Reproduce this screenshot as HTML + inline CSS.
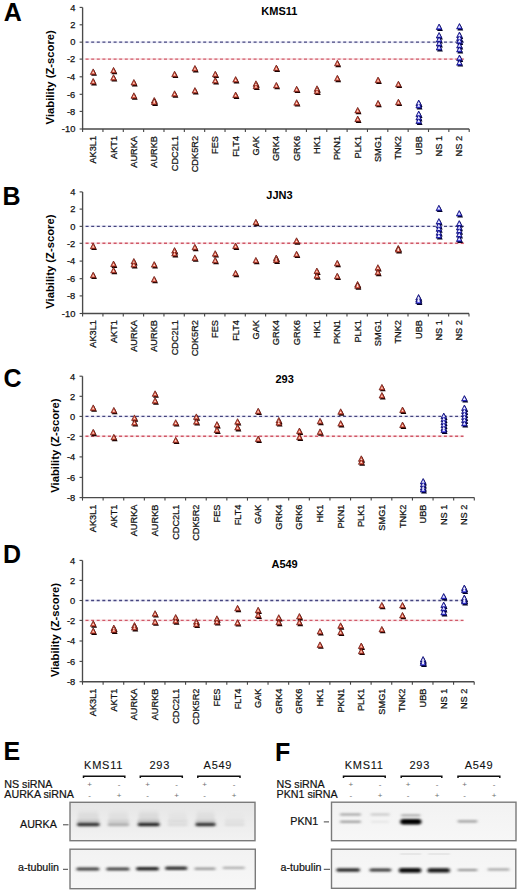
<!DOCTYPE html>
<html><head><meta charset="utf-8"><title>Figure</title>
<style>
html,body{margin:0;padding:0;background:#fff;}
body{width:520px;height:892px;position:relative;overflow:hidden;font-family:"Liberation Sans", sans-serif;}
svg text{font-family:"Liberation Sans", sans-serif;}
</style></head><body>
<svg width="520" height="892" viewBox="0 0 520 892" style="position:absolute;left:0;top:0"><text x="3.8" y="20.9" font-size="25" font-weight="bold" fill="#000">A</text><text x="279.4" y="14.9" font-size="11" font-weight="bold" text-anchor="middle" fill="#000">KMS11</text><text transform="translate(54.4,77.3) rotate(-90)" font-size="11.25" font-weight="bold" text-anchor="middle" fill="#000">Viability (Z-score)</text><line x1="84.6" y1="42.15" x2="464.2" y2="42.15" stroke="#ececf8" stroke-width="2"/><line x1="84.6" y1="59.10" x2="464.2" y2="59.10" stroke="#fae4e6" stroke-width="2"/><line x1="85.6" y1="42.15" x2="464.2" y2="42.15" stroke="#44447e" stroke-width="1.4" stroke-dasharray="3,2.6"/><line x1="85.6" y1="59.10" x2="464.2" y2="59.10" stroke="#d05868" stroke-width="1.4" stroke-dasharray="3,2.6"/><path d="M82.60,7.40V129.00H469.20" fill="none" stroke="#4a4a4a" stroke-width="1.35"/><line x1="79.60" y1="7.40" x2="82.60" y2="7.40" stroke="#444" stroke-width="1.1"/><text x="75.30" y="10.70" font-size="9.3" text-anchor="end" fill="#111" stroke="#111" stroke-width="0.25">4</text><line x1="79.60" y1="24.80" x2="82.60" y2="24.80" stroke="#444" stroke-width="1.1"/><text x="75.30" y="28.10" font-size="9.3" text-anchor="end" fill="#111" stroke="#111" stroke-width="0.25">2</text><line x1="79.60" y1="42.15" x2="82.60" y2="42.15" stroke="#444" stroke-width="1.1"/><text x="75.30" y="45.45" font-size="9.3" text-anchor="end" fill="#111" stroke="#111" stroke-width="0.25">0</text><line x1="79.60" y1="59.10" x2="82.60" y2="59.10" stroke="#444" stroke-width="1.1"/><text x="75.30" y="62.40" font-size="9.3" text-anchor="end" fill="#111" stroke="#111" stroke-width="0.25">-2</text><line x1="79.60" y1="76.80" x2="82.60" y2="76.80" stroke="#444" stroke-width="1.1"/><text x="75.30" y="80.10" font-size="9.3" text-anchor="end" fill="#111" stroke="#111" stroke-width="0.25">-4</text><line x1="79.60" y1="94.30" x2="82.60" y2="94.30" stroke="#444" stroke-width="1.1"/><text x="75.30" y="97.60" font-size="9.3" text-anchor="end" fill="#111" stroke="#111" stroke-width="0.25">-6</text><line x1="79.60" y1="111.40" x2="82.60" y2="111.40" stroke="#444" stroke-width="1.1"/><text x="75.30" y="114.70" font-size="9.3" text-anchor="end" fill="#111" stroke="#111" stroke-width="0.25">-8</text><line x1="79.60" y1="129.00" x2="82.60" y2="129.00" stroke="#444" stroke-width="1.1"/><text x="75.30" y="132.30" font-size="9.3" text-anchor="end" fill="#111" stroke="#111" stroke-width="0.25">-10</text><line x1="82.60" y1="129.00" x2="82.60" y2="132.00" stroke="#444" stroke-width="1.1"/><line x1="102.95" y1="129.00" x2="102.95" y2="132.00" stroke="#444" stroke-width="1.1"/><line x1="123.29" y1="129.00" x2="123.29" y2="132.00" stroke="#444" stroke-width="1.1"/><line x1="143.64" y1="129.00" x2="143.64" y2="132.00" stroke="#444" stroke-width="1.1"/><line x1="163.99" y1="129.00" x2="163.99" y2="132.00" stroke="#444" stroke-width="1.1"/><line x1="184.34" y1="129.00" x2="184.34" y2="132.00" stroke="#444" stroke-width="1.1"/><line x1="204.68" y1="129.00" x2="204.68" y2="132.00" stroke="#444" stroke-width="1.1"/><line x1="225.03" y1="129.00" x2="225.03" y2="132.00" stroke="#444" stroke-width="1.1"/><line x1="245.38" y1="129.00" x2="245.38" y2="132.00" stroke="#444" stroke-width="1.1"/><line x1="265.73" y1="129.00" x2="265.73" y2="132.00" stroke="#444" stroke-width="1.1"/><line x1="286.07" y1="129.00" x2="286.07" y2="132.00" stroke="#444" stroke-width="1.1"/><line x1="306.42" y1="129.00" x2="306.42" y2="132.00" stroke="#444" stroke-width="1.1"/><line x1="326.77" y1="129.00" x2="326.77" y2="132.00" stroke="#444" stroke-width="1.1"/><line x1="347.12" y1="129.00" x2="347.12" y2="132.00" stroke="#444" stroke-width="1.1"/><line x1="367.46" y1="129.00" x2="367.46" y2="132.00" stroke="#444" stroke-width="1.1"/><line x1="387.81" y1="129.00" x2="387.81" y2="132.00" stroke="#444" stroke-width="1.1"/><line x1="408.16" y1="129.00" x2="408.16" y2="132.00" stroke="#444" stroke-width="1.1"/><line x1="428.51" y1="129.00" x2="428.51" y2="132.00" stroke="#444" stroke-width="1.1"/><line x1="448.85" y1="129.00" x2="448.85" y2="132.00" stroke="#444" stroke-width="1.1"/><line x1="469.20" y1="129.00" x2="469.20" y2="132.00" stroke="#444" stroke-width="1.1"/><text transform="translate(96.17,136.00) rotate(-90)" font-size="9.2" text-anchor="end" fill="#111" stroke="#111" stroke-width="0.25">AK3L1</text><text transform="translate(116.52,136.00) rotate(-90)" font-size="9.2" text-anchor="end" fill="#111" stroke="#111" stroke-width="0.25">AKT1</text><text transform="translate(136.87,136.00) rotate(-90)" font-size="9.2" text-anchor="end" fill="#111" stroke="#111" stroke-width="0.25">AURKA</text><text transform="translate(157.22,136.00) rotate(-90)" font-size="9.2" text-anchor="end" fill="#111" stroke="#111" stroke-width="0.25">AURKB</text><text transform="translate(177.56,136.00) rotate(-90)" font-size="9.2" text-anchor="end" fill="#111" stroke="#111" stroke-width="0.25">CDC2L1</text><text transform="translate(197.91,136.00) rotate(-90)" font-size="9.2" text-anchor="end" fill="#111" stroke="#111" stroke-width="0.25">CDK5R2</text><text transform="translate(218.26,136.00) rotate(-90)" font-size="9.2" text-anchor="end" fill="#111" stroke="#111" stroke-width="0.25">FES</text><text transform="translate(238.61,136.00) rotate(-90)" font-size="9.2" text-anchor="end" fill="#111" stroke="#111" stroke-width="0.25">FLT4</text><text transform="translate(258.95,136.00) rotate(-90)" font-size="9.2" text-anchor="end" fill="#111" stroke="#111" stroke-width="0.25">GAK</text><text transform="translate(279.30,136.00) rotate(-90)" font-size="9.2" text-anchor="end" fill="#111" stroke="#111" stroke-width="0.25">GRK4</text><text transform="translate(299.65,136.00) rotate(-90)" font-size="9.2" text-anchor="end" fill="#111" stroke="#111" stroke-width="0.25">GRK6</text><text transform="translate(319.99,136.00) rotate(-90)" font-size="9.2" text-anchor="end" fill="#111" stroke="#111" stroke-width="0.25">HK1</text><text transform="translate(340.34,136.00) rotate(-90)" font-size="9.2" text-anchor="end" fill="#111" stroke="#111" stroke-width="0.25">PKN1</text><text transform="translate(360.69,136.00) rotate(-90)" font-size="9.2" text-anchor="end" fill="#111" stroke="#111" stroke-width="0.25">PLK1</text><text transform="translate(381.04,136.00) rotate(-90)" font-size="9.2" text-anchor="end" fill="#111" stroke="#111" stroke-width="0.25">SMG1</text><text transform="translate(401.38,136.00) rotate(-90)" font-size="9.2" text-anchor="end" fill="#111" stroke="#111" stroke-width="0.25">TNK2</text><text transform="translate(421.73,136.00) rotate(-90)" font-size="9.2" text-anchor="end" fill="#111" stroke="#111" stroke-width="0.25">UBB</text><text transform="translate(442.08,136.00) rotate(-90)" font-size="9.2" text-anchor="end" fill="#111" stroke="#111" stroke-width="0.25">NS 1</text><text transform="translate(462.43,136.00) rotate(-90)" font-size="9.2" text-anchor="end" fill="#111" stroke="#111" stroke-width="0.25">NS 2</text><path d="M91.17,75.80L94.07,69.90L96.97,75.80Z" fill="#140000"/><path d="M91.17,85.40L94.07,79.50L96.97,85.40Z" fill="#140000"/><path d="M90.37,74.40L93.17,68.90L95.97,74.40Z" fill="#e4604c" stroke="#6a1810" stroke-width="0.8" stroke-linejoin="round"/><path d="M90.37,84.00L93.17,78.50L95.97,84.00Z" fill="#e4604c" stroke="#6a1810" stroke-width="0.8" stroke-linejoin="round"/><path d="M92.17,73.20L93.17,71.30L94.17,73.20Z" fill="#ffece0"/><path d="M92.17,82.80L93.17,80.90L94.17,82.80Z" fill="#ffece0"/><path d="M111.52,74.30L114.42,68.40L117.32,74.30Z" fill="#140000"/><path d="M111.52,81.60L114.42,75.70L117.32,81.60Z" fill="#140000"/><path d="M110.72,72.90L113.52,67.40L116.32,72.90Z" fill="#e4604c" stroke="#6a1810" stroke-width="0.8" stroke-linejoin="round"/><path d="M110.72,80.20L113.52,74.70L116.32,80.20Z" fill="#e4604c" stroke="#6a1810" stroke-width="0.8" stroke-linejoin="round"/><path d="M112.52,71.70L113.52,69.80L114.52,71.70Z" fill="#ffece0"/><path d="M112.52,79.00L113.52,77.10L114.52,79.00Z" fill="#ffece0"/><path d="M131.87,86.40L134.77,80.50L137.67,86.40Z" fill="#140000"/><path d="M131.87,99.70L134.77,93.80L137.67,99.70Z" fill="#140000"/><path d="M131.07,85.00L133.87,79.50L136.67,85.00Z" fill="#e4604c" stroke="#6a1810" stroke-width="0.8" stroke-linejoin="round"/><path d="M131.07,98.30L133.87,92.80L136.67,98.30Z" fill="#e4604c" stroke="#6a1810" stroke-width="0.8" stroke-linejoin="round"/><path d="M132.87,83.80L133.87,81.90L134.87,83.80Z" fill="#ffece0"/><path d="M132.87,97.10L133.87,95.20L134.87,97.10Z" fill="#ffece0"/><path d="M152.22,104.40L155.12,98.50L158.02,104.40Z" fill="#140000"/><path d="M152.22,105.90L155.12,100.00L158.02,105.90Z" fill="#140000"/><path d="M151.42,103.00L154.22,97.50L157.02,103.00Z" fill="#e4604c" stroke="#6a1810" stroke-width="0.8" stroke-linejoin="round"/><path d="M151.42,104.50L154.22,99.00L157.02,104.50Z" fill="#e4604c" stroke="#6a1810" stroke-width="0.8" stroke-linejoin="round"/><path d="M153.22,101.80L154.22,99.90L155.22,101.80Z" fill="#ffece0"/><path d="M153.22,103.30L154.22,101.40L155.22,103.30Z" fill="#ffece0"/><path d="M172.56,78.10L175.46,72.20L178.36,78.10Z" fill="#140000"/><path d="M172.56,97.70L175.46,91.80L178.36,97.70Z" fill="#140000"/><path d="M171.76,76.70L174.56,71.20L177.36,76.70Z" fill="#e4604c" stroke="#6a1810" stroke-width="0.8" stroke-linejoin="round"/><path d="M171.76,96.30L174.56,90.80L177.36,96.30Z" fill="#e4604c" stroke="#6a1810" stroke-width="0.8" stroke-linejoin="round"/><path d="M173.56,75.50L174.56,73.60L175.56,75.50Z" fill="#ffece0"/><path d="M173.56,95.10L174.56,93.20L175.56,95.10Z" fill="#ffece0"/><path d="M192.91,72.40L195.81,66.50L198.71,72.40Z" fill="#140000"/><path d="M192.91,94.50L195.81,88.60L198.71,94.50Z" fill="#140000"/><path d="M192.11,71.00L194.91,65.50L197.71,71.00Z" fill="#e4604c" stroke="#6a1810" stroke-width="0.8" stroke-linejoin="round"/><path d="M192.11,93.10L194.91,87.60L197.71,93.10Z" fill="#e4604c" stroke="#6a1810" stroke-width="0.8" stroke-linejoin="round"/><path d="M193.91,69.80L194.91,67.90L195.91,69.80Z" fill="#ffece0"/><path d="M193.91,91.90L194.91,90.00L195.91,91.90Z" fill="#ffece0"/><path d="M213.26,78.10L216.16,72.20L219.06,78.10Z" fill="#140000"/><path d="M213.26,84.50L216.16,78.60L219.06,84.50Z" fill="#140000"/><path d="M212.46,76.70L215.26,71.20L218.06,76.70Z" fill="#e4604c" stroke="#6a1810" stroke-width="0.8" stroke-linejoin="round"/><path d="M212.46,83.10L215.26,77.60L218.06,83.10Z" fill="#e4604c" stroke="#6a1810" stroke-width="0.8" stroke-linejoin="round"/><path d="M214.26,75.50L215.26,73.60L216.26,75.50Z" fill="#ffece0"/><path d="M214.26,81.90L215.26,80.00L216.26,81.90Z" fill="#ffece0"/><path d="M233.61,83.50L236.51,77.60L239.41,83.50Z" fill="#140000"/><path d="M233.61,98.90L236.51,93.00L239.41,98.90Z" fill="#140000"/><path d="M232.81,82.10L235.61,76.60L238.41,82.10Z" fill="#e4604c" stroke="#6a1810" stroke-width="0.8" stroke-linejoin="round"/><path d="M232.81,97.50L235.61,92.00L238.41,97.50Z" fill="#e4604c" stroke="#6a1810" stroke-width="0.8" stroke-linejoin="round"/><path d="M234.61,80.90L235.61,79.00L236.61,80.90Z" fill="#ffece0"/><path d="M234.61,96.30L235.61,94.40L236.61,96.30Z" fill="#ffece0"/><path d="M253.95,87.70L256.85,81.80L259.75,87.70Z" fill="#140000"/><path d="M253.95,90.10L256.85,84.20L259.75,90.10Z" fill="#140000"/><path d="M253.15,86.30L255.95,80.80L258.75,86.30Z" fill="#e4604c" stroke="#6a1810" stroke-width="0.8" stroke-linejoin="round"/><path d="M253.15,88.70L255.95,83.20L258.75,88.70Z" fill="#e4604c" stroke="#6a1810" stroke-width="0.8" stroke-linejoin="round"/><path d="M254.95,85.10L255.95,83.20L256.95,85.10Z" fill="#ffece0"/><path d="M254.95,87.50L255.95,85.60L256.95,87.50Z" fill="#ffece0"/><path d="M274.30,72.00L277.20,66.10L280.10,72.00Z" fill="#140000"/><path d="M274.30,89.30L277.20,83.40L280.10,89.30Z" fill="#140000"/><path d="M273.50,70.60L276.30,65.10L279.10,70.60Z" fill="#e4604c" stroke="#6a1810" stroke-width="0.8" stroke-linejoin="round"/><path d="M273.50,87.90L276.30,82.40L279.10,87.90Z" fill="#e4604c" stroke="#6a1810" stroke-width="0.8" stroke-linejoin="round"/><path d="M275.30,69.40L276.30,67.50L277.30,69.40Z" fill="#ffece0"/><path d="M275.30,86.70L276.30,84.80L277.30,86.70Z" fill="#ffece0"/><path d="M294.65,93.10L297.55,87.20L300.45,93.10Z" fill="#140000"/><path d="M294.65,106.60L297.55,100.70L300.45,106.60Z" fill="#140000"/><path d="M293.85,91.70L296.65,86.20L299.45,91.70Z" fill="#e4604c" stroke="#6a1810" stroke-width="0.8" stroke-linejoin="round"/><path d="M293.85,105.20L296.65,99.70L299.45,105.20Z" fill="#e4604c" stroke="#6a1810" stroke-width="0.8" stroke-linejoin="round"/><path d="M295.65,90.50L296.65,88.60L297.65,90.50Z" fill="#ffece0"/><path d="M295.65,104.00L296.65,102.10L297.65,104.00Z" fill="#ffece0"/><path d="M314.99,92.70L317.89,86.80L320.79,92.70Z" fill="#140000"/><path d="M314.99,95.10L317.89,89.20L320.79,95.10Z" fill="#140000"/><path d="M314.19,91.30L316.99,85.80L319.79,91.30Z" fill="#e4604c" stroke="#6a1810" stroke-width="0.8" stroke-linejoin="round"/><path d="M314.19,93.70L316.99,88.20L319.79,93.70Z" fill="#e4604c" stroke="#6a1810" stroke-width="0.8" stroke-linejoin="round"/><path d="M315.99,90.10L316.99,88.20L317.99,90.10Z" fill="#ffece0"/><path d="M315.99,92.50L316.99,90.60L317.99,92.50Z" fill="#ffece0"/><path d="M335.34,67.20L338.24,61.30L341.14,67.20Z" fill="#140000"/><path d="M335.34,82.20L338.24,76.30L341.14,82.20Z" fill="#140000"/><path d="M334.54,65.80L337.34,60.30L340.14,65.80Z" fill="#e4604c" stroke="#6a1810" stroke-width="0.8" stroke-linejoin="round"/><path d="M334.54,80.80L337.34,75.30L340.14,80.80Z" fill="#e4604c" stroke="#6a1810" stroke-width="0.8" stroke-linejoin="round"/><path d="M336.34,64.60L337.34,62.70L338.34,64.60Z" fill="#ffece0"/><path d="M336.34,79.60L337.34,77.70L338.34,79.60Z" fill="#ffece0"/><path d="M355.69,114.30L358.59,108.40L361.49,114.30Z" fill="#140000"/><path d="M355.69,122.90L358.59,117.00L361.49,122.90Z" fill="#140000"/><path d="M354.89,112.90L357.69,107.40L360.49,112.90Z" fill="#e4604c" stroke="#6a1810" stroke-width="0.8" stroke-linejoin="round"/><path d="M354.89,121.50L357.69,116.00L360.49,121.50Z" fill="#e4604c" stroke="#6a1810" stroke-width="0.8" stroke-linejoin="round"/><path d="M356.69,111.70L357.69,109.80L358.69,111.70Z" fill="#ffece0"/><path d="M356.69,120.30L357.69,118.40L358.69,120.30Z" fill="#ffece0"/><path d="M376.04,84.00L378.94,78.10L381.84,84.00Z" fill="#140000"/><path d="M376.04,107.30L378.94,101.40L381.84,107.30Z" fill="#140000"/><path d="M375.24,82.60L378.04,77.10L380.84,82.60Z" fill="#e4604c" stroke="#6a1810" stroke-width="0.8" stroke-linejoin="round"/><path d="M375.24,105.90L378.04,100.40L380.84,105.90Z" fill="#e4604c" stroke="#6a1810" stroke-width="0.8" stroke-linejoin="round"/><path d="M377.04,81.40L378.04,79.50L379.04,81.40Z" fill="#ffece0"/><path d="M377.04,104.70L378.04,102.80L379.04,104.70Z" fill="#ffece0"/><path d="M396.38,88.10L399.28,82.20L402.18,88.10Z" fill="#140000"/><path d="M396.38,106.10L399.28,100.20L402.18,106.10Z" fill="#140000"/><path d="M395.58,86.70L398.38,81.20L401.18,86.70Z" fill="#e4604c" stroke="#6a1810" stroke-width="0.8" stroke-linejoin="round"/><path d="M395.58,104.70L398.38,99.20L401.18,104.70Z" fill="#e4604c" stroke="#6a1810" stroke-width="0.8" stroke-linejoin="round"/><path d="M397.38,85.50L398.38,83.60L399.38,85.50Z" fill="#ffece0"/><path d="M397.38,103.50L398.38,101.60L399.38,103.50Z" fill="#ffece0"/><path d="M416.73,106.90L419.63,101.00L422.53,106.90Z" fill="#000024"/><path d="M416.73,109.40L419.63,103.50L422.53,109.40Z" fill="#000024"/><path d="M416.73,117.90L419.63,112.00L422.53,117.90Z" fill="#000024"/><path d="M416.73,121.40L419.63,115.50L422.53,121.40Z" fill="#000024"/><path d="M416.73,124.90L419.63,119.00L422.53,124.90Z" fill="#000024"/><path d="M415.93,105.50L418.73,100.00L421.53,105.50Z" fill="#3838f0" stroke="#10106a" stroke-width="0.8" stroke-linejoin="round"/><path d="M415.93,108.00L418.73,102.50L421.53,108.00Z" fill="#3838f0" stroke="#10106a" stroke-width="0.8" stroke-linejoin="round"/><path d="M415.93,116.50L418.73,111.00L421.53,116.50Z" fill="#3838f0" stroke="#10106a" stroke-width="0.8" stroke-linejoin="round"/><path d="M415.93,120.00L418.73,114.50L421.53,120.00Z" fill="#3838f0" stroke="#10106a" stroke-width="0.8" stroke-linejoin="round"/><path d="M415.93,123.50L418.73,118.00L421.53,123.50Z" fill="#3838f0" stroke="#10106a" stroke-width="0.8" stroke-linejoin="round"/><path d="M417.23,104.30L418.73,101.50L420.23,104.30Z" fill="#f0f0ff"/><path d="M417.23,106.80L418.73,104.00L420.23,106.80Z" fill="#f0f0ff"/><path d="M417.23,115.30L418.73,112.50L420.23,115.30Z" fill="#f0f0ff"/><path d="M417.23,118.80L418.73,116.00L420.23,118.80Z" fill="#f0f0ff"/><path d="M417.23,122.30L418.73,119.50L420.23,122.30Z" fill="#f0f0ff"/><path d="M437.08,30.90L439.98,25.00L442.88,30.90Z" fill="#000024"/><path d="M437.08,39.40L439.98,33.50L442.88,39.40Z" fill="#000024"/><path d="M437.08,43.40L439.98,37.50L442.88,43.40Z" fill="#000024"/><path d="M437.08,47.40L439.98,41.50L442.88,47.40Z" fill="#000024"/><path d="M437.08,51.40L439.98,45.50L442.88,51.40Z" fill="#000024"/><path d="M436.28,29.50L439.08,24.00L441.88,29.50Z" fill="#3838f0" stroke="#10106a" stroke-width="0.8" stroke-linejoin="round"/><path d="M436.28,38.00L439.08,32.50L441.88,38.00Z" fill="#3838f0" stroke="#10106a" stroke-width="0.8" stroke-linejoin="round"/><path d="M436.28,42.00L439.08,36.50L441.88,42.00Z" fill="#3838f0" stroke="#10106a" stroke-width="0.8" stroke-linejoin="round"/><path d="M436.28,46.00L439.08,40.50L441.88,46.00Z" fill="#3838f0" stroke="#10106a" stroke-width="0.8" stroke-linejoin="round"/><path d="M436.28,50.00L439.08,44.50L441.88,50.00Z" fill="#3838f0" stroke="#10106a" stroke-width="0.8" stroke-linejoin="round"/><path d="M437.58,28.30L439.08,25.50L440.58,28.30Z" fill="#f0f0ff"/><path d="M437.58,36.80L439.08,34.00L440.58,36.80Z" fill="#f0f0ff"/><path d="M437.58,40.80L439.08,38.00L440.58,40.80Z" fill="#f0f0ff"/><path d="M437.58,44.80L439.08,42.00L440.58,44.80Z" fill="#f0f0ff"/><path d="M437.58,48.80L439.08,46.00L440.58,48.80Z" fill="#f0f0ff"/><path d="M457.43,30.40L460.33,24.50L463.23,30.40Z" fill="#000024"/><path d="M457.43,38.90L460.33,33.00L463.23,38.90Z" fill="#000024"/><path d="M457.43,41.90L460.33,36.00L463.23,41.90Z" fill="#000024"/><path d="M457.43,44.90L460.33,39.00L463.23,44.90Z" fill="#000024"/><path d="M457.43,49.40L460.33,43.50L463.23,49.40Z" fill="#000024"/><path d="M457.43,53.40L460.33,47.50L463.23,53.40Z" fill="#000024"/><path d="M457.43,61.90L460.33,56.00L463.23,61.90Z" fill="#000024"/><path d="M457.43,66.60L460.33,60.70L463.23,66.60Z" fill="#000024"/><path d="M456.63,29.00L459.43,23.50L462.23,29.00Z" fill="#3838f0" stroke="#10106a" stroke-width="0.8" stroke-linejoin="round"/><path d="M456.63,37.50L459.43,32.00L462.23,37.50Z" fill="#3838f0" stroke="#10106a" stroke-width="0.8" stroke-linejoin="round"/><path d="M456.63,40.50L459.43,35.00L462.23,40.50Z" fill="#3838f0" stroke="#10106a" stroke-width="0.8" stroke-linejoin="round"/><path d="M456.63,43.50L459.43,38.00L462.23,43.50Z" fill="#3838f0" stroke="#10106a" stroke-width="0.8" stroke-linejoin="round"/><path d="M456.63,48.00L459.43,42.50L462.23,48.00Z" fill="#3838f0" stroke="#10106a" stroke-width="0.8" stroke-linejoin="round"/><path d="M456.63,52.00L459.43,46.50L462.23,52.00Z" fill="#3838f0" stroke="#10106a" stroke-width="0.8" stroke-linejoin="round"/><path d="M456.63,60.50L459.43,55.00L462.23,60.50Z" fill="#3838f0" stroke="#10106a" stroke-width="0.8" stroke-linejoin="round"/><path d="M456.63,65.20L459.43,59.70L462.23,65.20Z" fill="#3838f0" stroke="#10106a" stroke-width="0.8" stroke-linejoin="round"/><path d="M457.93,27.80L459.43,25.00L460.93,27.80Z" fill="#f0f0ff"/><path d="M457.93,36.30L459.43,33.50L460.93,36.30Z" fill="#f0f0ff"/><path d="M457.93,39.30L459.43,36.50L460.93,39.30Z" fill="#f0f0ff"/><path d="M457.93,42.30L459.43,39.50L460.93,42.30Z" fill="#f0f0ff"/><path d="M457.93,46.80L459.43,44.00L460.93,46.80Z" fill="#f0f0ff"/><path d="M457.93,50.80L459.43,48.00L460.93,50.80Z" fill="#f0f0ff"/><path d="M457.93,59.30L459.43,56.50L460.93,59.30Z" fill="#f0f0ff"/><path d="M457.93,64.00L459.43,61.20L460.93,64.00Z" fill="#f0f0ff"/><text x="2.5" y="204.8" font-size="25" font-weight="bold" fill="#000">B</text><text x="279.5" y="199.2" font-size="11" font-weight="bold" text-anchor="middle" fill="#000">JJN3</text><text transform="translate(53.9,261.7) rotate(-90)" font-size="11.25" font-weight="bold" text-anchor="middle" fill="#000">Viability (Z-score)</text><line x1="84.6" y1="226.35" x2="464.2" y2="226.35" stroke="#ececf8" stroke-width="2"/><line x1="84.6" y1="243.30" x2="464.2" y2="243.30" stroke="#fae4e6" stroke-width="2"/><line x1="85.6" y1="226.35" x2="464.2" y2="226.35" stroke="#44447e" stroke-width="1.4" stroke-dasharray="3,2.6"/><line x1="85.6" y1="243.30" x2="464.2" y2="243.30" stroke="#d05868" stroke-width="1.4" stroke-dasharray="3,2.6"/><path d="M82.60,191.90V313.50H469.00" fill="none" stroke="#4a4a4a" stroke-width="1.35"/><line x1="79.60" y1="191.90" x2="82.60" y2="191.90" stroke="#444" stroke-width="1.1"/><text x="75.30" y="195.20" font-size="9.3" text-anchor="end" fill="#111" stroke="#111" stroke-width="0.25">4</text><line x1="79.60" y1="209.10" x2="82.60" y2="209.10" stroke="#444" stroke-width="1.1"/><text x="75.30" y="212.40" font-size="9.3" text-anchor="end" fill="#111" stroke="#111" stroke-width="0.25">2</text><line x1="79.60" y1="226.35" x2="82.60" y2="226.35" stroke="#444" stroke-width="1.1"/><text x="75.30" y="229.65" font-size="9.3" text-anchor="end" fill="#111" stroke="#111" stroke-width="0.25">0</text><line x1="79.60" y1="243.30" x2="82.60" y2="243.30" stroke="#444" stroke-width="1.1"/><text x="75.30" y="246.60" font-size="9.3" text-anchor="end" fill="#111" stroke="#111" stroke-width="0.25">-2</text><line x1="79.60" y1="261.10" x2="82.60" y2="261.10" stroke="#444" stroke-width="1.1"/><text x="75.30" y="264.40" font-size="9.3" text-anchor="end" fill="#111" stroke="#111" stroke-width="0.25">-4</text><line x1="79.60" y1="278.70" x2="82.60" y2="278.70" stroke="#444" stroke-width="1.1"/><text x="75.30" y="282.00" font-size="9.3" text-anchor="end" fill="#111" stroke="#111" stroke-width="0.25">-6</text><line x1="79.60" y1="295.90" x2="82.60" y2="295.90" stroke="#444" stroke-width="1.1"/><text x="75.30" y="299.20" font-size="9.3" text-anchor="end" fill="#111" stroke="#111" stroke-width="0.25">-8</text><line x1="79.60" y1="313.50" x2="82.60" y2="313.50" stroke="#444" stroke-width="1.1"/><text x="75.30" y="316.80" font-size="9.3" text-anchor="end" fill="#111" stroke="#111" stroke-width="0.25">-10</text><line x1="82.60" y1="313.50" x2="82.60" y2="316.50" stroke="#444" stroke-width="1.1"/><line x1="102.94" y1="313.50" x2="102.94" y2="316.50" stroke="#444" stroke-width="1.1"/><line x1="123.27" y1="313.50" x2="123.27" y2="316.50" stroke="#444" stroke-width="1.1"/><line x1="143.61" y1="313.50" x2="143.61" y2="316.50" stroke="#444" stroke-width="1.1"/><line x1="163.95" y1="313.50" x2="163.95" y2="316.50" stroke="#444" stroke-width="1.1"/><line x1="184.28" y1="313.50" x2="184.28" y2="316.50" stroke="#444" stroke-width="1.1"/><line x1="204.62" y1="313.50" x2="204.62" y2="316.50" stroke="#444" stroke-width="1.1"/><line x1="224.96" y1="313.50" x2="224.96" y2="316.50" stroke="#444" stroke-width="1.1"/><line x1="245.29" y1="313.50" x2="245.29" y2="316.50" stroke="#444" stroke-width="1.1"/><line x1="265.63" y1="313.50" x2="265.63" y2="316.50" stroke="#444" stroke-width="1.1"/><line x1="285.97" y1="313.50" x2="285.97" y2="316.50" stroke="#444" stroke-width="1.1"/><line x1="306.31" y1="313.50" x2="306.31" y2="316.50" stroke="#444" stroke-width="1.1"/><line x1="326.64" y1="313.50" x2="326.64" y2="316.50" stroke="#444" stroke-width="1.1"/><line x1="346.98" y1="313.50" x2="346.98" y2="316.50" stroke="#444" stroke-width="1.1"/><line x1="367.32" y1="313.50" x2="367.32" y2="316.50" stroke="#444" stroke-width="1.1"/><line x1="387.65" y1="313.50" x2="387.65" y2="316.50" stroke="#444" stroke-width="1.1"/><line x1="407.99" y1="313.50" x2="407.99" y2="316.50" stroke="#444" stroke-width="1.1"/><line x1="428.33" y1="313.50" x2="428.33" y2="316.50" stroke="#444" stroke-width="1.1"/><line x1="448.66" y1="313.50" x2="448.66" y2="316.50" stroke="#444" stroke-width="1.1"/><line x1="469.00" y1="313.50" x2="469.00" y2="316.50" stroke="#444" stroke-width="1.1"/><text transform="translate(96.17,320.10) rotate(-90)" font-size="9.2" text-anchor="end" fill="#111" stroke="#111" stroke-width="0.25">AK3L1</text><text transform="translate(116.51,320.10) rotate(-90)" font-size="9.2" text-anchor="end" fill="#111" stroke="#111" stroke-width="0.25">AKT1</text><text transform="translate(136.84,320.10) rotate(-90)" font-size="9.2" text-anchor="end" fill="#111" stroke="#111" stroke-width="0.25">AURKA</text><text transform="translate(157.18,320.10) rotate(-90)" font-size="9.2" text-anchor="end" fill="#111" stroke="#111" stroke-width="0.25">AURKB</text><text transform="translate(177.52,320.10) rotate(-90)" font-size="9.2" text-anchor="end" fill="#111" stroke="#111" stroke-width="0.25">CDC2L1</text><text transform="translate(197.85,320.10) rotate(-90)" font-size="9.2" text-anchor="end" fill="#111" stroke="#111" stroke-width="0.25">CDK5R2</text><text transform="translate(218.19,320.10) rotate(-90)" font-size="9.2" text-anchor="end" fill="#111" stroke="#111" stroke-width="0.25">FES</text><text transform="translate(238.53,320.10) rotate(-90)" font-size="9.2" text-anchor="end" fill="#111" stroke="#111" stroke-width="0.25">FLT4</text><text transform="translate(258.86,320.10) rotate(-90)" font-size="9.2" text-anchor="end" fill="#111" stroke="#111" stroke-width="0.25">GAK</text><text transform="translate(279.20,320.10) rotate(-90)" font-size="9.2" text-anchor="end" fill="#111" stroke="#111" stroke-width="0.25">GRK4</text><text transform="translate(299.54,320.10) rotate(-90)" font-size="9.2" text-anchor="end" fill="#111" stroke="#111" stroke-width="0.25">GRK6</text><text transform="translate(319.87,320.10) rotate(-90)" font-size="9.2" text-anchor="end" fill="#111" stroke="#111" stroke-width="0.25">HK1</text><text transform="translate(340.21,320.10) rotate(-90)" font-size="9.2" text-anchor="end" fill="#111" stroke="#111" stroke-width="0.25">PKN1</text><text transform="translate(360.55,320.10) rotate(-90)" font-size="9.2" text-anchor="end" fill="#111" stroke="#111" stroke-width="0.25">PLK1</text><text transform="translate(380.88,320.10) rotate(-90)" font-size="9.2" text-anchor="end" fill="#111" stroke="#111" stroke-width="0.25">SMG1</text><text transform="translate(401.22,320.10) rotate(-90)" font-size="9.2" text-anchor="end" fill="#111" stroke="#111" stroke-width="0.25">TNK2</text><text transform="translate(421.56,320.10) rotate(-90)" font-size="9.2" text-anchor="end" fill="#111" stroke="#111" stroke-width="0.25">UBB</text><text transform="translate(441.89,320.10) rotate(-90)" font-size="9.2" text-anchor="end" fill="#111" stroke="#111" stroke-width="0.25">NS 1</text><text transform="translate(462.23,320.10) rotate(-90)" font-size="9.2" text-anchor="end" fill="#111" stroke="#111" stroke-width="0.25">NS 2</text><path d="M91.17,250.10L94.07,244.20L96.97,250.10Z" fill="#140000"/><path d="M91.17,279.10L94.07,273.20L96.97,279.10Z" fill="#140000"/><path d="M90.37,248.70L93.17,243.20L95.97,248.70Z" fill="#e4604c" stroke="#6a1810" stroke-width="0.8" stroke-linejoin="round"/><path d="M90.37,277.70L93.17,272.20L95.97,277.70Z" fill="#e4604c" stroke="#6a1810" stroke-width="0.8" stroke-linejoin="round"/><path d="M92.17,247.50L93.17,245.60L94.17,247.50Z" fill="#ffece0"/><path d="M92.17,276.50L93.17,274.60L94.17,276.50Z" fill="#ffece0"/><path d="M111.51,267.90L114.41,262.00L117.31,267.90Z" fill="#140000"/><path d="M111.51,274.30L114.41,268.40L117.31,274.30Z" fill="#140000"/><path d="M110.71,266.50L113.51,261.00L116.31,266.50Z" fill="#e4604c" stroke="#6a1810" stroke-width="0.8" stroke-linejoin="round"/><path d="M110.71,272.90L113.51,267.40L116.31,272.90Z" fill="#e4604c" stroke="#6a1810" stroke-width="0.8" stroke-linejoin="round"/><path d="M112.51,265.30L113.51,263.40L114.51,265.30Z" fill="#ffece0"/><path d="M112.51,271.70L113.51,269.80L114.51,271.70Z" fill="#ffece0"/><path d="M131.84,265.40L134.74,259.50L137.64,265.40Z" fill="#140000"/><path d="M131.84,268.50L134.74,262.60L137.64,268.50Z" fill="#140000"/><path d="M131.04,264.00L133.84,258.50L136.64,264.00Z" fill="#e4604c" stroke="#6a1810" stroke-width="0.8" stroke-linejoin="round"/><path d="M131.04,267.10L133.84,261.60L136.64,267.10Z" fill="#e4604c" stroke="#6a1810" stroke-width="0.8" stroke-linejoin="round"/><path d="M132.84,262.80L133.84,260.90L134.84,262.80Z" fill="#ffece0"/><path d="M132.84,265.90L133.84,264.00L134.84,265.90Z" fill="#ffece0"/><path d="M152.18,268.50L155.08,262.60L157.98,268.50Z" fill="#140000"/><path d="M152.18,283.30L155.08,277.40L157.98,283.30Z" fill="#140000"/><path d="M151.38,267.10L154.18,261.60L156.98,267.10Z" fill="#e4604c" stroke="#6a1810" stroke-width="0.8" stroke-linejoin="round"/><path d="M151.38,281.90L154.18,276.40L156.98,281.90Z" fill="#e4604c" stroke="#6a1810" stroke-width="0.8" stroke-linejoin="round"/><path d="M153.18,265.90L154.18,264.00L155.18,265.90Z" fill="#ffece0"/><path d="M153.18,280.70L154.18,278.80L155.18,280.70Z" fill="#ffece0"/><path d="M172.52,254.50L175.42,248.60L178.32,254.50Z" fill="#140000"/><path d="M172.52,257.40L175.42,251.50L178.32,257.40Z" fill="#140000"/><path d="M171.72,253.10L174.52,247.60L177.32,253.10Z" fill="#e4604c" stroke="#6a1810" stroke-width="0.8" stroke-linejoin="round"/><path d="M171.72,256.00L174.52,250.50L177.32,256.00Z" fill="#e4604c" stroke="#6a1810" stroke-width="0.8" stroke-linejoin="round"/><path d="M173.52,251.90L174.52,250.00L175.52,251.90Z" fill="#ffece0"/><path d="M173.52,254.80L174.52,252.90L175.52,254.80Z" fill="#ffece0"/><path d="M192.85,251.20L195.75,245.30L198.65,251.20Z" fill="#140000"/><path d="M192.85,261.80L195.75,255.90L198.65,261.80Z" fill="#140000"/><path d="M192.05,249.80L194.85,244.30L197.65,249.80Z" fill="#e4604c" stroke="#6a1810" stroke-width="0.8" stroke-linejoin="round"/><path d="M192.05,260.40L194.85,254.90L197.65,260.40Z" fill="#e4604c" stroke="#6a1810" stroke-width="0.8" stroke-linejoin="round"/><path d="M193.85,248.60L194.85,246.70L195.85,248.60Z" fill="#ffece0"/><path d="M193.85,259.20L194.85,257.30L195.85,259.20Z" fill="#ffece0"/><path d="M213.19,257.60L216.09,251.70L218.99,257.60Z" fill="#140000"/><path d="M213.19,264.30L216.09,258.40L218.99,264.30Z" fill="#140000"/><path d="M212.39,256.20L215.19,250.70L217.99,256.20Z" fill="#e4604c" stroke="#6a1810" stroke-width="0.8" stroke-linejoin="round"/><path d="M212.39,262.90L215.19,257.40L217.99,262.90Z" fill="#e4604c" stroke="#6a1810" stroke-width="0.8" stroke-linejoin="round"/><path d="M214.19,255.00L215.19,253.10L216.19,255.00Z" fill="#ffece0"/><path d="M214.19,261.70L215.19,259.80L216.19,261.70Z" fill="#ffece0"/><path d="M233.53,249.90L236.43,244.00L239.33,249.90Z" fill="#140000"/><path d="M233.53,277.20L236.43,271.30L239.33,277.20Z" fill="#140000"/><path d="M232.73,248.50L235.53,243.00L238.33,248.50Z" fill="#e4604c" stroke="#6a1810" stroke-width="0.8" stroke-linejoin="round"/><path d="M232.73,275.80L235.53,270.30L238.33,275.80Z" fill="#e4604c" stroke="#6a1810" stroke-width="0.8" stroke-linejoin="round"/><path d="M234.53,247.30L235.53,245.40L236.53,247.30Z" fill="#ffece0"/><path d="M234.53,274.60L235.53,272.70L236.53,274.60Z" fill="#ffece0"/><path d="M253.86,226.20L256.76,220.30L259.66,226.20Z" fill="#140000"/><path d="M253.86,264.30L256.76,258.40L259.66,264.30Z" fill="#140000"/><path d="M253.06,224.80L255.86,219.30L258.66,224.80Z" fill="#e4604c" stroke="#6a1810" stroke-width="0.8" stroke-linejoin="round"/><path d="M253.06,262.90L255.86,257.40L258.66,262.90Z" fill="#e4604c" stroke="#6a1810" stroke-width="0.8" stroke-linejoin="round"/><path d="M254.86,223.60L255.86,221.70L256.86,223.60Z" fill="#ffece0"/><path d="M254.86,261.70L255.86,259.80L256.86,261.70Z" fill="#ffece0"/><path d="M274.20,262.00L277.10,256.10L280.00,262.00Z" fill="#140000"/><path d="M274.20,263.90L277.10,258.00L280.00,263.90Z" fill="#140000"/><path d="M273.40,260.60L276.20,255.10L279.00,260.60Z" fill="#e4604c" stroke="#6a1810" stroke-width="0.8" stroke-linejoin="round"/><path d="M273.40,262.50L276.20,257.00L279.00,262.50Z" fill="#e4604c" stroke="#6a1810" stroke-width="0.8" stroke-linejoin="round"/><path d="M275.20,259.40L276.20,257.50L277.20,259.40Z" fill="#ffece0"/><path d="M275.20,261.30L276.20,259.40L277.20,261.30Z" fill="#ffece0"/><path d="M294.54,244.70L297.44,238.80L300.34,244.70Z" fill="#140000"/><path d="M294.54,258.10L297.44,252.20L300.34,258.10Z" fill="#140000"/><path d="M293.74,243.30L296.54,237.80L299.34,243.30Z" fill="#e4604c" stroke="#6a1810" stroke-width="0.8" stroke-linejoin="round"/><path d="M293.74,256.70L296.54,251.20L299.34,256.70Z" fill="#e4604c" stroke="#6a1810" stroke-width="0.8" stroke-linejoin="round"/><path d="M295.54,242.10L296.54,240.20L297.54,242.10Z" fill="#ffece0"/><path d="M295.54,255.50L296.54,253.60L297.54,255.50Z" fill="#ffece0"/><path d="M314.87,274.90L317.77,269.00L320.67,274.90Z" fill="#140000"/><path d="M314.87,279.70L317.77,273.80L320.67,279.70Z" fill="#140000"/><path d="M314.07,273.50L316.87,268.00L319.67,273.50Z" fill="#e4604c" stroke="#6a1810" stroke-width="0.8" stroke-linejoin="round"/><path d="M314.07,278.30L316.87,272.80L319.67,278.30Z" fill="#e4604c" stroke="#6a1810" stroke-width="0.8" stroke-linejoin="round"/><path d="M315.87,272.30L316.87,270.40L317.87,272.30Z" fill="#ffece0"/><path d="M315.87,277.10L316.87,275.20L317.87,277.10Z" fill="#ffece0"/><path d="M335.21,267.20L338.11,261.30L341.01,267.20Z" fill="#140000"/><path d="M335.21,280.10L338.11,274.20L341.01,280.10Z" fill="#140000"/><path d="M334.41,265.80L337.21,260.30L340.01,265.80Z" fill="#e4604c" stroke="#6a1810" stroke-width="0.8" stroke-linejoin="round"/><path d="M334.41,278.70L337.21,273.20L340.01,278.70Z" fill="#e4604c" stroke="#6a1810" stroke-width="0.8" stroke-linejoin="round"/><path d="M336.21,264.60L337.21,262.70L338.21,264.60Z" fill="#ffece0"/><path d="M336.21,277.50L337.21,275.60L338.21,277.50Z" fill="#ffece0"/><path d="M355.55,288.30L358.45,282.40L361.35,288.30Z" fill="#140000"/><path d="M355.55,289.70L358.45,283.80L361.35,289.70Z" fill="#140000"/><path d="M354.75,286.90L357.55,281.40L360.35,286.90Z" fill="#e4604c" stroke="#6a1810" stroke-width="0.8" stroke-linejoin="round"/><path d="M354.75,288.30L357.55,282.80L360.35,288.30Z" fill="#e4604c" stroke="#6a1810" stroke-width="0.8" stroke-linejoin="round"/><path d="M356.55,285.70L357.55,283.80L358.55,285.70Z" fill="#ffece0"/><path d="M356.55,287.10L357.55,285.20L358.55,287.10Z" fill="#ffece0"/><path d="M375.88,271.60L378.78,265.70L381.68,271.60Z" fill="#140000"/><path d="M375.88,276.20L378.78,270.30L381.68,276.20Z" fill="#140000"/><path d="M375.08,270.20L377.88,264.70L380.68,270.20Z" fill="#e4604c" stroke="#6a1810" stroke-width="0.8" stroke-linejoin="round"/><path d="M375.08,274.80L377.88,269.30L380.68,274.80Z" fill="#e4604c" stroke="#6a1810" stroke-width="0.8" stroke-linejoin="round"/><path d="M376.88,269.00L377.88,267.10L378.88,269.00Z" fill="#ffece0"/><path d="M376.88,273.60L377.88,271.70L378.88,273.60Z" fill="#ffece0"/><path d="M396.22,252.30L399.12,246.40L402.02,252.30Z" fill="#140000"/><path d="M396.22,253.50L399.12,247.60L402.02,253.50Z" fill="#140000"/><path d="M395.42,250.90L398.22,245.40L401.02,250.90Z" fill="#e4604c" stroke="#6a1810" stroke-width="0.8" stroke-linejoin="round"/><path d="M395.42,252.10L398.22,246.60L401.02,252.10Z" fill="#e4604c" stroke="#6a1810" stroke-width="0.8" stroke-linejoin="round"/><path d="M397.22,249.70L398.22,247.80L399.22,249.70Z" fill="#ffece0"/><path d="M397.22,250.90L398.22,249.00L399.22,250.90Z" fill="#ffece0"/><path d="M416.56,301.40L419.46,295.50L422.36,301.40Z" fill="#000024"/><path d="M416.56,303.40L419.46,297.50L422.36,303.40Z" fill="#000024"/><path d="M416.56,304.90L419.46,299.00L422.36,304.90Z" fill="#000024"/><path d="M415.76,300.00L418.56,294.50L421.36,300.00Z" fill="#3838f0" stroke="#10106a" stroke-width="0.8" stroke-linejoin="round"/><path d="M415.76,302.00L418.56,296.50L421.36,302.00Z" fill="#3838f0" stroke="#10106a" stroke-width="0.8" stroke-linejoin="round"/><path d="M415.76,303.50L418.56,298.00L421.36,303.50Z" fill="#3838f0" stroke="#10106a" stroke-width="0.8" stroke-linejoin="round"/><path d="M417.06,298.80L418.56,296.00L420.06,298.80Z" fill="#f0f0ff"/><path d="M417.06,300.80L418.56,298.00L420.06,300.80Z" fill="#f0f0ff"/><path d="M417.06,302.30L418.56,299.50L420.06,302.30Z" fill="#f0f0ff"/><path d="M436.89,212.10L439.79,206.20L442.69,212.10Z" fill="#000024"/><path d="M436.89,225.50L439.79,219.60L442.69,225.50Z" fill="#000024"/><path d="M436.89,229.40L439.79,223.50L442.69,229.40Z" fill="#000024"/><path d="M436.89,232.70L439.79,226.80L442.69,232.70Z" fill="#000024"/><path d="M436.89,236.60L439.79,230.70L442.69,236.60Z" fill="#000024"/><path d="M436.89,239.50L439.79,233.60L442.69,239.50Z" fill="#000024"/><path d="M436.09,210.70L438.89,205.20L441.69,210.70Z" fill="#3838f0" stroke="#10106a" stroke-width="0.8" stroke-linejoin="round"/><path d="M436.09,224.10L438.89,218.60L441.69,224.10Z" fill="#3838f0" stroke="#10106a" stroke-width="0.8" stroke-linejoin="round"/><path d="M436.09,228.00L438.89,222.50L441.69,228.00Z" fill="#3838f0" stroke="#10106a" stroke-width="0.8" stroke-linejoin="round"/><path d="M436.09,231.30L438.89,225.80L441.69,231.30Z" fill="#3838f0" stroke="#10106a" stroke-width="0.8" stroke-linejoin="round"/><path d="M436.09,235.20L438.89,229.70L441.69,235.20Z" fill="#3838f0" stroke="#10106a" stroke-width="0.8" stroke-linejoin="round"/><path d="M436.09,238.10L438.89,232.60L441.69,238.10Z" fill="#3838f0" stroke="#10106a" stroke-width="0.8" stroke-linejoin="round"/><path d="M437.39,209.50L438.89,206.70L440.39,209.50Z" fill="#f0f0ff"/><path d="M437.39,222.90L438.89,220.10L440.39,222.90Z" fill="#f0f0ff"/><path d="M437.39,226.80L438.89,224.00L440.39,226.80Z" fill="#f0f0ff"/><path d="M437.39,230.10L438.89,227.30L440.39,230.10Z" fill="#f0f0ff"/><path d="M437.39,234.00L438.89,231.20L440.39,234.00Z" fill="#f0f0ff"/><path d="M437.39,236.90L438.89,234.10L440.39,236.90Z" fill="#f0f0ff"/><path d="M457.23,217.40L460.13,211.50L463.03,217.40Z" fill="#000024"/><path d="M457.23,227.50L460.13,221.60L463.03,227.50Z" fill="#000024"/><path d="M457.23,231.30L460.13,225.40L463.03,231.30Z" fill="#000024"/><path d="M457.23,234.70L460.13,228.80L463.03,234.70Z" fill="#000024"/><path d="M457.23,238.50L460.13,232.60L463.03,238.50Z" fill="#000024"/><path d="M457.23,242.90L460.13,237.00L463.03,242.90Z" fill="#000024"/><path d="M456.43,216.00L459.23,210.50L462.03,216.00Z" fill="#3838f0" stroke="#10106a" stroke-width="0.8" stroke-linejoin="round"/><path d="M456.43,226.10L459.23,220.60L462.03,226.10Z" fill="#3838f0" stroke="#10106a" stroke-width="0.8" stroke-linejoin="round"/><path d="M456.43,229.90L459.23,224.40L462.03,229.90Z" fill="#3838f0" stroke="#10106a" stroke-width="0.8" stroke-linejoin="round"/><path d="M456.43,233.30L459.23,227.80L462.03,233.30Z" fill="#3838f0" stroke="#10106a" stroke-width="0.8" stroke-linejoin="round"/><path d="M456.43,237.10L459.23,231.60L462.03,237.10Z" fill="#3838f0" stroke="#10106a" stroke-width="0.8" stroke-linejoin="round"/><path d="M456.43,241.50L459.23,236.00L462.03,241.50Z" fill="#3838f0" stroke="#10106a" stroke-width="0.8" stroke-linejoin="round"/><path d="M457.73,214.80L459.23,212.00L460.73,214.80Z" fill="#f0f0ff"/><path d="M457.73,224.90L459.23,222.10L460.73,224.90Z" fill="#f0f0ff"/><path d="M457.73,228.70L459.23,225.90L460.73,228.70Z" fill="#f0f0ff"/><path d="M457.73,232.10L459.23,229.30L460.73,232.10Z" fill="#f0f0ff"/><path d="M457.73,235.90L459.23,233.10L460.73,235.90Z" fill="#f0f0ff"/><path d="M457.73,240.30L459.23,237.50L460.73,240.30Z" fill="#f0f0ff"/><text x="3.5" y="387.3" font-size="25" font-weight="bold" fill="#000">C</text><text x="284.6" y="383.1" font-size="11" font-weight="bold" text-anchor="middle" fill="#000">293</text><text transform="translate(58.9,445.7) rotate(-90)" font-size="11.25" font-weight="bold" text-anchor="middle" fill="#000">Viability (Z-score)</text><line x1="84.5" y1="416.40" x2="463.5" y2="416.40" stroke="#ececf8" stroke-width="2"/><line x1="84.5" y1="436.30" x2="463.5" y2="436.30" stroke="#fae4e6" stroke-width="2"/><line x1="85.5" y1="416.40" x2="463.5" y2="416.40" stroke="#44447e" stroke-width="1.4" stroke-dasharray="3,2.6"/><line x1="85.5" y1="436.30" x2="463.5" y2="436.30" stroke="#d05868" stroke-width="1.4" stroke-dasharray="3,2.6"/><path d="M82.50,376.20V497.60H474.30" fill="none" stroke="#4a4a4a" stroke-width="1.35"/><line x1="79.50" y1="376.20" x2="82.50" y2="376.20" stroke="#444" stroke-width="1.1"/><text x="75.20" y="379.50" font-size="9.3" text-anchor="end" fill="#111" stroke="#111" stroke-width="0.25">4</text><line x1="79.50" y1="396.30" x2="82.50" y2="396.30" stroke="#444" stroke-width="1.1"/><text x="75.20" y="399.60" font-size="9.3" text-anchor="end" fill="#111" stroke="#111" stroke-width="0.25">2</text><line x1="79.50" y1="416.40" x2="82.50" y2="416.40" stroke="#444" stroke-width="1.1"/><text x="75.20" y="419.70" font-size="9.3" text-anchor="end" fill="#111" stroke="#111" stroke-width="0.25">0</text><line x1="79.50" y1="436.30" x2="82.50" y2="436.30" stroke="#444" stroke-width="1.1"/><text x="75.20" y="439.60" font-size="9.3" text-anchor="end" fill="#111" stroke="#111" stroke-width="0.25">-2</text><line x1="79.50" y1="456.90" x2="82.50" y2="456.90" stroke="#444" stroke-width="1.1"/><text x="75.20" y="460.20" font-size="9.3" text-anchor="end" fill="#111" stroke="#111" stroke-width="0.25">-4</text><line x1="79.50" y1="477.40" x2="82.50" y2="477.40" stroke="#444" stroke-width="1.1"/><text x="75.20" y="480.70" font-size="9.3" text-anchor="end" fill="#111" stroke="#111" stroke-width="0.25">-6</text><line x1="79.50" y1="497.60" x2="82.50" y2="497.60" stroke="#444" stroke-width="1.1"/><text x="75.20" y="500.90" font-size="9.3" text-anchor="end" fill="#111" stroke="#111" stroke-width="0.25">-8</text><line x1="82.50" y1="497.60" x2="82.50" y2="500.60" stroke="#444" stroke-width="1.1"/><line x1="103.12" y1="497.60" x2="103.12" y2="500.60" stroke="#444" stroke-width="1.1"/><line x1="123.74" y1="497.60" x2="123.74" y2="500.60" stroke="#444" stroke-width="1.1"/><line x1="144.36" y1="497.60" x2="144.36" y2="500.60" stroke="#444" stroke-width="1.1"/><line x1="164.98" y1="497.60" x2="164.98" y2="500.60" stroke="#444" stroke-width="1.1"/><line x1="185.61" y1="497.60" x2="185.61" y2="500.60" stroke="#444" stroke-width="1.1"/><line x1="206.23" y1="497.60" x2="206.23" y2="500.60" stroke="#444" stroke-width="1.1"/><line x1="226.85" y1="497.60" x2="226.85" y2="500.60" stroke="#444" stroke-width="1.1"/><line x1="247.47" y1="497.60" x2="247.47" y2="500.60" stroke="#444" stroke-width="1.1"/><line x1="268.09" y1="497.60" x2="268.09" y2="500.60" stroke="#444" stroke-width="1.1"/><line x1="288.71" y1="497.60" x2="288.71" y2="500.60" stroke="#444" stroke-width="1.1"/><line x1="309.33" y1="497.60" x2="309.33" y2="500.60" stroke="#444" stroke-width="1.1"/><line x1="329.95" y1="497.60" x2="329.95" y2="500.60" stroke="#444" stroke-width="1.1"/><line x1="350.57" y1="497.60" x2="350.57" y2="500.60" stroke="#444" stroke-width="1.1"/><line x1="371.19" y1="497.60" x2="371.19" y2="500.60" stroke="#444" stroke-width="1.1"/><line x1="391.82" y1="497.60" x2="391.82" y2="500.60" stroke="#444" stroke-width="1.1"/><line x1="412.44" y1="497.60" x2="412.44" y2="500.60" stroke="#444" stroke-width="1.1"/><line x1="433.06" y1="497.60" x2="433.06" y2="500.60" stroke="#444" stroke-width="1.1"/><line x1="453.68" y1="497.60" x2="453.68" y2="500.60" stroke="#444" stroke-width="1.1"/><line x1="474.30" y1="497.60" x2="474.30" y2="500.60" stroke="#444" stroke-width="1.1"/><text transform="translate(96.21,504.60) rotate(-90)" font-size="9.2" text-anchor="end" fill="#111" stroke="#111" stroke-width="0.25">AK3L1</text><text transform="translate(116.83,504.60) rotate(-90)" font-size="9.2" text-anchor="end" fill="#111" stroke="#111" stroke-width="0.25">AKT1</text><text transform="translate(137.45,504.60) rotate(-90)" font-size="9.2" text-anchor="end" fill="#111" stroke="#111" stroke-width="0.25">AURKA</text><text transform="translate(158.07,504.60) rotate(-90)" font-size="9.2" text-anchor="end" fill="#111" stroke="#111" stroke-width="0.25">AURKB</text><text transform="translate(178.69,504.60) rotate(-90)" font-size="9.2" text-anchor="end" fill="#111" stroke="#111" stroke-width="0.25">CDC2L1</text><text transform="translate(199.32,504.60) rotate(-90)" font-size="9.2" text-anchor="end" fill="#111" stroke="#111" stroke-width="0.25">CDK5R2</text><text transform="translate(219.94,504.60) rotate(-90)" font-size="9.2" text-anchor="end" fill="#111" stroke="#111" stroke-width="0.25">FES</text><text transform="translate(240.56,504.60) rotate(-90)" font-size="9.2" text-anchor="end" fill="#111" stroke="#111" stroke-width="0.25">FLT4</text><text transform="translate(261.18,504.60) rotate(-90)" font-size="9.2" text-anchor="end" fill="#111" stroke="#111" stroke-width="0.25">GAK</text><text transform="translate(281.80,504.60) rotate(-90)" font-size="9.2" text-anchor="end" fill="#111" stroke="#111" stroke-width="0.25">GRK4</text><text transform="translate(302.42,504.60) rotate(-90)" font-size="9.2" text-anchor="end" fill="#111" stroke="#111" stroke-width="0.25">GRK6</text><text transform="translate(323.04,504.60) rotate(-90)" font-size="9.2" text-anchor="end" fill="#111" stroke="#111" stroke-width="0.25">HK1</text><text transform="translate(343.66,504.60) rotate(-90)" font-size="9.2" text-anchor="end" fill="#111" stroke="#111" stroke-width="0.25">PKN1</text><text transform="translate(364.28,504.60) rotate(-90)" font-size="9.2" text-anchor="end" fill="#111" stroke="#111" stroke-width="0.25">PLK1</text><text transform="translate(384.91,504.60) rotate(-90)" font-size="9.2" text-anchor="end" fill="#111" stroke="#111" stroke-width="0.25">SMG1</text><text transform="translate(405.53,504.60) rotate(-90)" font-size="9.2" text-anchor="end" fill="#111" stroke="#111" stroke-width="0.25">TNK2</text><text transform="translate(426.15,504.60) rotate(-90)" font-size="9.2" text-anchor="end" fill="#111" stroke="#111" stroke-width="0.25">UBB</text><text transform="translate(446.77,504.60) rotate(-90)" font-size="9.2" text-anchor="end" fill="#111" stroke="#111" stroke-width="0.25">NS 1</text><text transform="translate(467.39,504.60) rotate(-90)" font-size="9.2" text-anchor="end" fill="#111" stroke="#111" stroke-width="0.25">NS 2</text><path d="M91.21,411.80L94.11,405.90L97.01,411.80Z" fill="#140000"/><path d="M91.21,436.20L94.11,430.30L97.01,436.20Z" fill="#140000"/><path d="M90.41,410.40L93.21,404.90L96.01,410.40Z" fill="#e4604c" stroke="#6a1810" stroke-width="0.8" stroke-linejoin="round"/><path d="M90.41,434.80L93.21,429.30L96.01,434.80Z" fill="#e4604c" stroke="#6a1810" stroke-width="0.8" stroke-linejoin="round"/><path d="M92.21,409.20L93.21,407.30L94.21,409.20Z" fill="#ffece0"/><path d="M92.21,433.60L93.21,431.70L94.21,433.60Z" fill="#ffece0"/><path d="M111.83,414.30L114.73,408.40L117.63,414.30Z" fill="#140000"/><path d="M111.83,441.20L114.73,435.30L117.63,441.20Z" fill="#140000"/><path d="M111.03,412.90L113.83,407.40L116.63,412.90Z" fill="#e4604c" stroke="#6a1810" stroke-width="0.8" stroke-linejoin="round"/><path d="M111.03,439.80L113.83,434.30L116.63,439.80Z" fill="#e4604c" stroke="#6a1810" stroke-width="0.8" stroke-linejoin="round"/><path d="M112.83,411.70L113.83,409.80L114.83,411.70Z" fill="#ffece0"/><path d="M112.83,438.60L113.83,436.70L114.83,438.60Z" fill="#ffece0"/><path d="M132.45,421.80L135.35,415.90L138.25,421.80Z" fill="#140000"/><path d="M132.45,426.60L135.35,420.70L138.25,426.60Z" fill="#140000"/><path d="M131.65,420.40L134.45,414.90L137.25,420.40Z" fill="#e4604c" stroke="#6a1810" stroke-width="0.8" stroke-linejoin="round"/><path d="M131.65,425.20L134.45,419.70L137.25,425.20Z" fill="#e4604c" stroke="#6a1810" stroke-width="0.8" stroke-linejoin="round"/><path d="M133.45,419.20L134.45,417.30L135.45,419.20Z" fill="#ffece0"/><path d="M133.45,424.00L134.45,422.10L135.45,424.00Z" fill="#ffece0"/><path d="M153.07,397.70L155.97,391.80L158.87,397.70Z" fill="#140000"/><path d="M153.07,404.70L155.97,398.80L158.87,404.70Z" fill="#140000"/><path d="M152.27,396.30L155.07,390.80L157.87,396.30Z" fill="#e4604c" stroke="#6a1810" stroke-width="0.8" stroke-linejoin="round"/><path d="M152.27,403.30L155.07,397.80L157.87,403.30Z" fill="#e4604c" stroke="#6a1810" stroke-width="0.8" stroke-linejoin="round"/><path d="M154.07,395.10L155.07,393.20L156.07,395.10Z" fill="#ffece0"/><path d="M154.07,402.10L155.07,400.20L156.07,402.10Z" fill="#ffece0"/><path d="M173.69,426.60L176.59,420.70L179.49,426.60Z" fill="#140000"/><path d="M173.69,444.10L176.59,438.20L179.49,444.10Z" fill="#140000"/><path d="M172.89,425.20L175.69,419.70L178.49,425.20Z" fill="#e4604c" stroke="#6a1810" stroke-width="0.8" stroke-linejoin="round"/><path d="M172.89,442.70L175.69,437.20L178.49,442.70Z" fill="#e4604c" stroke="#6a1810" stroke-width="0.8" stroke-linejoin="round"/><path d="M174.69,424.00L175.69,422.10L176.69,424.00Z" fill="#ffece0"/><path d="M174.69,441.50L175.69,439.60L176.69,441.50Z" fill="#ffece0"/><path d="M194.32,420.80L197.22,414.90L200.12,420.80Z" fill="#140000"/><path d="M194.32,425.60L197.22,419.70L200.12,425.60Z" fill="#140000"/><path d="M193.52,419.40L196.32,413.90L199.12,419.40Z" fill="#e4604c" stroke="#6a1810" stroke-width="0.8" stroke-linejoin="round"/><path d="M193.52,424.20L196.32,418.70L199.12,424.20Z" fill="#e4604c" stroke="#6a1810" stroke-width="0.8" stroke-linejoin="round"/><path d="M195.32,418.20L196.32,416.30L197.32,418.20Z" fill="#ffece0"/><path d="M195.32,423.00L196.32,421.10L197.32,423.00Z" fill="#ffece0"/><path d="M214.94,428.50L217.84,422.60L220.74,428.50Z" fill="#140000"/><path d="M214.94,433.90L217.84,428.00L220.74,433.90Z" fill="#140000"/><path d="M214.14,427.10L216.94,421.60L219.74,427.10Z" fill="#e4604c" stroke="#6a1810" stroke-width="0.8" stroke-linejoin="round"/><path d="M214.14,432.50L216.94,427.00L219.74,432.50Z" fill="#e4604c" stroke="#6a1810" stroke-width="0.8" stroke-linejoin="round"/><path d="M215.94,425.90L216.94,424.00L217.94,425.90Z" fill="#ffece0"/><path d="M215.94,431.30L216.94,429.40L217.94,431.30Z" fill="#ffece0"/><path d="M235.56,425.60L238.46,419.70L241.36,425.60Z" fill="#140000"/><path d="M235.56,431.40L238.46,425.50L241.36,431.40Z" fill="#140000"/><path d="M234.76,424.20L237.56,418.70L240.36,424.20Z" fill="#e4604c" stroke="#6a1810" stroke-width="0.8" stroke-linejoin="round"/><path d="M234.76,430.00L237.56,424.50L240.36,430.00Z" fill="#e4604c" stroke="#6a1810" stroke-width="0.8" stroke-linejoin="round"/><path d="M236.56,423.00L237.56,421.10L238.56,423.00Z" fill="#ffece0"/><path d="M236.56,428.80L237.56,426.90L238.56,428.80Z" fill="#ffece0"/><path d="M256.18,415.10L259.08,409.20L261.98,415.10Z" fill="#140000"/><path d="M256.18,442.90L259.08,437.00L261.98,442.90Z" fill="#140000"/><path d="M255.38,413.70L258.18,408.20L260.98,413.70Z" fill="#e4604c" stroke="#6a1810" stroke-width="0.8" stroke-linejoin="round"/><path d="M255.38,441.50L258.18,436.00L260.98,441.50Z" fill="#e4604c" stroke="#6a1810" stroke-width="0.8" stroke-linejoin="round"/><path d="M257.18,412.50L258.18,410.60L259.18,412.50Z" fill="#ffece0"/><path d="M257.18,440.30L258.18,438.40L259.18,440.30Z" fill="#ffece0"/><path d="M276.80,424.30L279.70,418.40L282.60,424.30Z" fill="#140000"/><path d="M276.80,426.60L279.70,420.70L282.60,426.60Z" fill="#140000"/><path d="M276.00,422.90L278.80,417.40L281.60,422.90Z" fill="#e4604c" stroke="#6a1810" stroke-width="0.8" stroke-linejoin="round"/><path d="M276.00,425.20L278.80,419.70L281.60,425.20Z" fill="#e4604c" stroke="#6a1810" stroke-width="0.8" stroke-linejoin="round"/><path d="M277.80,421.70L278.80,419.80L279.80,421.70Z" fill="#ffece0"/><path d="M277.80,424.00L278.80,422.10L279.80,424.00Z" fill="#ffece0"/><path d="M297.42,434.90L300.32,429.00L303.22,434.90Z" fill="#140000"/><path d="M297.42,441.00L300.32,435.10L303.22,441.00Z" fill="#140000"/><path d="M296.62,433.50L299.42,428.00L302.22,433.50Z" fill="#e4604c" stroke="#6a1810" stroke-width="0.8" stroke-linejoin="round"/><path d="M296.62,439.60L299.42,434.10L302.22,439.60Z" fill="#e4604c" stroke="#6a1810" stroke-width="0.8" stroke-linejoin="round"/><path d="M298.42,432.30L299.42,430.40L300.42,432.30Z" fill="#ffece0"/><path d="M298.42,438.40L299.42,436.50L300.42,438.40Z" fill="#ffece0"/><path d="M318.04,425.20L320.94,419.30L323.84,425.20Z" fill="#140000"/><path d="M318.04,435.80L320.94,429.90L323.84,435.80Z" fill="#140000"/><path d="M317.24,423.80L320.04,418.30L322.84,423.80Z" fill="#e4604c" stroke="#6a1810" stroke-width="0.8" stroke-linejoin="round"/><path d="M317.24,434.40L320.04,428.90L322.84,434.40Z" fill="#e4604c" stroke="#6a1810" stroke-width="0.8" stroke-linejoin="round"/><path d="M319.04,422.60L320.04,420.70L321.04,422.60Z" fill="#ffece0"/><path d="M319.04,433.20L320.04,431.30L321.04,433.20Z" fill="#ffece0"/><path d="M338.66,415.70L341.56,409.80L344.46,415.70Z" fill="#140000"/><path d="M338.66,427.50L341.56,421.60L344.46,427.50Z" fill="#140000"/><path d="M337.86,414.30L340.66,408.80L343.46,414.30Z" fill="#e4604c" stroke="#6a1810" stroke-width="0.8" stroke-linejoin="round"/><path d="M337.86,426.10L340.66,420.60L343.46,426.10Z" fill="#e4604c" stroke="#6a1810" stroke-width="0.8" stroke-linejoin="round"/><path d="M339.66,413.10L340.66,411.20L341.66,413.10Z" fill="#ffece0"/><path d="M339.66,424.90L340.66,423.00L341.66,424.90Z" fill="#ffece0"/><path d="M359.28,462.70L362.18,456.80L365.08,462.70Z" fill="#140000"/><path d="M359.28,465.70L362.18,459.80L365.08,465.70Z" fill="#140000"/><path d="M358.48,461.30L361.28,455.80L364.08,461.30Z" fill="#e4604c" stroke="#6a1810" stroke-width="0.8" stroke-linejoin="round"/><path d="M358.48,464.30L361.28,458.80L364.08,464.30Z" fill="#e4604c" stroke="#6a1810" stroke-width="0.8" stroke-linejoin="round"/><path d="M360.28,460.10L361.28,458.20L362.28,460.10Z" fill="#ffece0"/><path d="M360.28,463.10L361.28,461.20L362.28,463.10Z" fill="#ffece0"/><path d="M379.91,391.30L382.81,385.40L385.71,391.30Z" fill="#140000"/><path d="M379.91,399.40L382.81,393.50L385.71,399.40Z" fill="#140000"/><path d="M379.11,389.90L381.91,384.40L384.71,389.90Z" fill="#e4604c" stroke="#6a1810" stroke-width="0.8" stroke-linejoin="round"/><path d="M379.11,398.00L381.91,392.50L384.71,398.00Z" fill="#e4604c" stroke="#6a1810" stroke-width="0.8" stroke-linejoin="round"/><path d="M380.91,388.70L381.91,386.80L382.91,388.70Z" fill="#ffece0"/><path d="M380.91,396.80L381.91,394.90L382.91,396.80Z" fill="#ffece0"/><path d="M400.53,413.90L403.43,408.00L406.33,413.90Z" fill="#140000"/><path d="M400.53,428.90L403.43,423.00L406.33,428.90Z" fill="#140000"/><path d="M399.73,412.50L402.53,407.00L405.33,412.50Z" fill="#e4604c" stroke="#6a1810" stroke-width="0.8" stroke-linejoin="round"/><path d="M399.73,427.50L402.53,422.00L405.33,427.50Z" fill="#e4604c" stroke="#6a1810" stroke-width="0.8" stroke-linejoin="round"/><path d="M401.53,411.30L402.53,409.40L403.53,411.30Z" fill="#ffece0"/><path d="M401.53,426.30L402.53,424.40L403.53,426.30Z" fill="#ffece0"/><path d="M421.15,485.40L424.05,479.50L426.95,485.40Z" fill="#000024"/><path d="M421.15,488.40L424.05,482.50L426.95,488.40Z" fill="#000024"/><path d="M421.15,491.40L424.05,485.50L426.95,491.40Z" fill="#000024"/><path d="M421.15,493.40L424.05,487.50L426.95,493.40Z" fill="#000024"/><path d="M420.35,484.00L423.15,478.50L425.95,484.00Z" fill="#3838f0" stroke="#10106a" stroke-width="0.8" stroke-linejoin="round"/><path d="M420.35,487.00L423.15,481.50L425.95,487.00Z" fill="#3838f0" stroke="#10106a" stroke-width="0.8" stroke-linejoin="round"/><path d="M420.35,490.00L423.15,484.50L425.95,490.00Z" fill="#3838f0" stroke="#10106a" stroke-width="0.8" stroke-linejoin="round"/><path d="M420.35,492.00L423.15,486.50L425.95,492.00Z" fill="#3838f0" stroke="#10106a" stroke-width="0.8" stroke-linejoin="round"/><path d="M421.65,482.80L423.15,480.00L424.65,482.80Z" fill="#f0f0ff"/><path d="M421.65,485.80L423.15,483.00L424.65,485.80Z" fill="#f0f0ff"/><path d="M421.65,488.80L423.15,486.00L424.65,488.80Z" fill="#f0f0ff"/><path d="M421.65,490.80L423.15,488.00L424.65,490.80Z" fill="#f0f0ff"/><path d="M441.77,419.90L444.67,414.00L447.57,419.90Z" fill="#000024"/><path d="M441.77,422.90L444.67,417.00L447.57,422.90Z" fill="#000024"/><path d="M441.77,425.90L444.67,420.00L447.57,425.90Z" fill="#000024"/><path d="M441.77,428.90L444.67,423.00L447.57,428.90Z" fill="#000024"/><path d="M441.77,431.90L444.67,426.00L447.57,431.90Z" fill="#000024"/><path d="M441.77,433.90L444.67,428.00L447.57,433.90Z" fill="#000024"/><path d="M440.97,418.50L443.77,413.00L446.57,418.50Z" fill="#3838f0" stroke="#10106a" stroke-width="0.8" stroke-linejoin="round"/><path d="M440.97,421.50L443.77,416.00L446.57,421.50Z" fill="#3838f0" stroke="#10106a" stroke-width="0.8" stroke-linejoin="round"/><path d="M440.97,424.50L443.77,419.00L446.57,424.50Z" fill="#3838f0" stroke="#10106a" stroke-width="0.8" stroke-linejoin="round"/><path d="M440.97,427.50L443.77,422.00L446.57,427.50Z" fill="#3838f0" stroke="#10106a" stroke-width="0.8" stroke-linejoin="round"/><path d="M440.97,430.50L443.77,425.00L446.57,430.50Z" fill="#3838f0" stroke="#10106a" stroke-width="0.8" stroke-linejoin="round"/><path d="M440.97,432.50L443.77,427.00L446.57,432.50Z" fill="#3838f0" stroke="#10106a" stroke-width="0.8" stroke-linejoin="round"/><path d="M442.27,417.30L443.77,414.50L445.27,417.30Z" fill="#f0f0ff"/><path d="M442.27,420.30L443.77,417.50L445.27,420.30Z" fill="#f0f0ff"/><path d="M442.27,423.30L443.77,420.50L445.27,423.30Z" fill="#f0f0ff"/><path d="M442.27,426.30L443.77,423.50L445.27,426.30Z" fill="#f0f0ff"/><path d="M442.27,429.30L443.77,426.50L445.27,429.30Z" fill="#f0f0ff"/><path d="M442.27,431.30L443.77,428.50L445.27,431.30Z" fill="#f0f0ff"/><path d="M462.39,402.50L465.29,396.60L468.19,402.50Z" fill="#000024"/><path d="M462.39,411.90L465.29,406.00L468.19,411.90Z" fill="#000024"/><path d="M462.39,414.90L465.29,409.00L468.19,414.90Z" fill="#000024"/><path d="M462.39,417.90L465.29,412.00L468.19,417.90Z" fill="#000024"/><path d="M462.39,420.90L465.29,415.00L468.19,420.90Z" fill="#000024"/><path d="M462.39,423.90L465.29,418.00L468.19,423.90Z" fill="#000024"/><path d="M462.39,427.40L465.29,421.50L468.19,427.40Z" fill="#000024"/><path d="M461.59,401.10L464.39,395.60L467.19,401.10Z" fill="#3838f0" stroke="#10106a" stroke-width="0.8" stroke-linejoin="round"/><path d="M461.59,410.50L464.39,405.00L467.19,410.50Z" fill="#3838f0" stroke="#10106a" stroke-width="0.8" stroke-linejoin="round"/><path d="M461.59,413.50L464.39,408.00L467.19,413.50Z" fill="#3838f0" stroke="#10106a" stroke-width="0.8" stroke-linejoin="round"/><path d="M461.59,416.50L464.39,411.00L467.19,416.50Z" fill="#3838f0" stroke="#10106a" stroke-width="0.8" stroke-linejoin="round"/><path d="M461.59,419.50L464.39,414.00L467.19,419.50Z" fill="#3838f0" stroke="#10106a" stroke-width="0.8" stroke-linejoin="round"/><path d="M461.59,422.50L464.39,417.00L467.19,422.50Z" fill="#3838f0" stroke="#10106a" stroke-width="0.8" stroke-linejoin="round"/><path d="M461.59,426.00L464.39,420.50L467.19,426.00Z" fill="#3838f0" stroke="#10106a" stroke-width="0.8" stroke-linejoin="round"/><path d="M462.89,399.90L464.39,397.10L465.89,399.90Z" fill="#f0f0ff"/><path d="M462.89,409.30L464.39,406.50L465.89,409.30Z" fill="#f0f0ff"/><path d="M462.89,412.30L464.39,409.50L465.89,412.30Z" fill="#f0f0ff"/><path d="M462.89,415.30L464.39,412.50L465.89,415.30Z" fill="#f0f0ff"/><path d="M462.89,418.30L464.39,415.50L465.89,418.30Z" fill="#f0f0ff"/><path d="M462.89,421.30L464.39,418.50L465.89,421.30Z" fill="#f0f0ff"/><path d="M462.89,424.80L464.39,422.00L465.89,424.80Z" fill="#f0f0ff"/><text x="3.0" y="562.7" font-size="25" font-weight="bold" fill="#000">D</text><text x="284.6" y="567.5" font-size="11" font-weight="bold" text-anchor="middle" fill="#000">A549</text><text transform="translate(58.9,630.0) rotate(-90)" font-size="11.25" font-weight="bold" text-anchor="middle" fill="#000">Viability (Z-score)</text><line x1="84.5" y1="600.50" x2="463.5" y2="600.50" stroke="#ececf8" stroke-width="2"/><line x1="84.5" y1="620.40" x2="463.5" y2="620.40" stroke="#fae4e6" stroke-width="2"/><line x1="85.5" y1="600.50" x2="463.5" y2="600.50" stroke="#44447e" stroke-width="1.4" stroke-dasharray="3,2.6"/><line x1="85.5" y1="620.40" x2="463.5" y2="620.40" stroke="#d05868" stroke-width="1.4" stroke-dasharray="3,2.6"/><path d="M82.50,560.40V681.70H474.20" fill="none" stroke="#4a4a4a" stroke-width="1.35"/><line x1="79.50" y1="560.40" x2="82.50" y2="560.40" stroke="#444" stroke-width="1.1"/><text x="75.20" y="563.70" font-size="9.3" text-anchor="end" fill="#111" stroke="#111" stroke-width="0.25">4</text><line x1="79.50" y1="580.40" x2="82.50" y2="580.40" stroke="#444" stroke-width="1.1"/><text x="75.20" y="583.70" font-size="9.3" text-anchor="end" fill="#111" stroke="#111" stroke-width="0.25">2</text><line x1="79.50" y1="600.50" x2="82.50" y2="600.50" stroke="#444" stroke-width="1.1"/><text x="75.20" y="603.80" font-size="9.3" text-anchor="end" fill="#111" stroke="#111" stroke-width="0.25">0</text><line x1="79.50" y1="620.40" x2="82.50" y2="620.40" stroke="#444" stroke-width="1.1"/><text x="75.20" y="623.70" font-size="9.3" text-anchor="end" fill="#111" stroke="#111" stroke-width="0.25">-2</text><line x1="79.50" y1="641.00" x2="82.50" y2="641.00" stroke="#444" stroke-width="1.1"/><text x="75.20" y="644.30" font-size="9.3" text-anchor="end" fill="#111" stroke="#111" stroke-width="0.25">-4</text><line x1="79.50" y1="661.40" x2="82.50" y2="661.40" stroke="#444" stroke-width="1.1"/><text x="75.20" y="664.70" font-size="9.3" text-anchor="end" fill="#111" stroke="#111" stroke-width="0.25">-6</text><line x1="79.50" y1="681.70" x2="82.50" y2="681.70" stroke="#444" stroke-width="1.1"/><text x="75.20" y="685.00" font-size="9.3" text-anchor="end" fill="#111" stroke="#111" stroke-width="0.25">-8</text><line x1="82.50" y1="681.70" x2="82.50" y2="684.70" stroke="#444" stroke-width="1.1"/><line x1="103.12" y1="681.70" x2="103.12" y2="684.70" stroke="#444" stroke-width="1.1"/><line x1="123.73" y1="681.70" x2="123.73" y2="684.70" stroke="#444" stroke-width="1.1"/><line x1="144.35" y1="681.70" x2="144.35" y2="684.70" stroke="#444" stroke-width="1.1"/><line x1="164.96" y1="681.70" x2="164.96" y2="684.70" stroke="#444" stroke-width="1.1"/><line x1="185.58" y1="681.70" x2="185.58" y2="684.70" stroke="#444" stroke-width="1.1"/><line x1="206.19" y1="681.70" x2="206.19" y2="684.70" stroke="#444" stroke-width="1.1"/><line x1="226.81" y1="681.70" x2="226.81" y2="684.70" stroke="#444" stroke-width="1.1"/><line x1="247.43" y1="681.70" x2="247.43" y2="684.70" stroke="#444" stroke-width="1.1"/><line x1="268.04" y1="681.70" x2="268.04" y2="684.70" stroke="#444" stroke-width="1.1"/><line x1="288.66" y1="681.70" x2="288.66" y2="684.70" stroke="#444" stroke-width="1.1"/><line x1="309.27" y1="681.70" x2="309.27" y2="684.70" stroke="#444" stroke-width="1.1"/><line x1="329.89" y1="681.70" x2="329.89" y2="684.70" stroke="#444" stroke-width="1.1"/><line x1="350.51" y1="681.70" x2="350.51" y2="684.70" stroke="#444" stroke-width="1.1"/><line x1="371.12" y1="681.70" x2="371.12" y2="684.70" stroke="#444" stroke-width="1.1"/><line x1="391.74" y1="681.70" x2="391.74" y2="684.70" stroke="#444" stroke-width="1.1"/><line x1="412.35" y1="681.70" x2="412.35" y2="684.70" stroke="#444" stroke-width="1.1"/><line x1="432.97" y1="681.70" x2="432.97" y2="684.70" stroke="#444" stroke-width="1.1"/><line x1="453.58" y1="681.70" x2="453.58" y2="684.70" stroke="#444" stroke-width="1.1"/><line x1="474.20" y1="681.70" x2="474.20" y2="684.70" stroke="#444" stroke-width="1.1"/><text transform="translate(96.21,688.60) rotate(-90)" font-size="9.2" text-anchor="end" fill="#111" stroke="#111" stroke-width="0.25">AK3L1</text><text transform="translate(116.82,688.60) rotate(-90)" font-size="9.2" text-anchor="end" fill="#111" stroke="#111" stroke-width="0.25">AKT1</text><text transform="translate(137.44,688.60) rotate(-90)" font-size="9.2" text-anchor="end" fill="#111" stroke="#111" stroke-width="0.25">AURKA</text><text transform="translate(158.06,688.60) rotate(-90)" font-size="9.2" text-anchor="end" fill="#111" stroke="#111" stroke-width="0.25">AURKB</text><text transform="translate(178.67,688.60) rotate(-90)" font-size="9.2" text-anchor="end" fill="#111" stroke="#111" stroke-width="0.25">CDC2L1</text><text transform="translate(199.29,688.60) rotate(-90)" font-size="9.2" text-anchor="end" fill="#111" stroke="#111" stroke-width="0.25">CDK5R2</text><text transform="translate(219.90,688.60) rotate(-90)" font-size="9.2" text-anchor="end" fill="#111" stroke="#111" stroke-width="0.25">FES</text><text transform="translate(240.52,688.60) rotate(-90)" font-size="9.2" text-anchor="end" fill="#111" stroke="#111" stroke-width="0.25">FLT4</text><text transform="translate(261.13,688.60) rotate(-90)" font-size="9.2" text-anchor="end" fill="#111" stroke="#111" stroke-width="0.25">GAK</text><text transform="translate(281.75,688.60) rotate(-90)" font-size="9.2" text-anchor="end" fill="#111" stroke="#111" stroke-width="0.25">GRK4</text><text transform="translate(302.37,688.60) rotate(-90)" font-size="9.2" text-anchor="end" fill="#111" stroke="#111" stroke-width="0.25">GRK6</text><text transform="translate(322.98,688.60) rotate(-90)" font-size="9.2" text-anchor="end" fill="#111" stroke="#111" stroke-width="0.25">HK1</text><text transform="translate(343.60,688.60) rotate(-90)" font-size="9.2" text-anchor="end" fill="#111" stroke="#111" stroke-width="0.25">PKN1</text><text transform="translate(364.21,688.60) rotate(-90)" font-size="9.2" text-anchor="end" fill="#111" stroke="#111" stroke-width="0.25">PLK1</text><text transform="translate(384.83,688.60) rotate(-90)" font-size="9.2" text-anchor="end" fill="#111" stroke="#111" stroke-width="0.25">SMG1</text><text transform="translate(405.44,688.60) rotate(-90)" font-size="9.2" text-anchor="end" fill="#111" stroke="#111" stroke-width="0.25">TNK2</text><text transform="translate(426.06,688.60) rotate(-90)" font-size="9.2" text-anchor="end" fill="#111" stroke="#111" stroke-width="0.25">UBB</text><text transform="translate(446.68,688.60) rotate(-90)" font-size="9.2" text-anchor="end" fill="#111" stroke="#111" stroke-width="0.25">NS 1</text><text transform="translate(467.29,688.60) rotate(-90)" font-size="9.2" text-anchor="end" fill="#111" stroke="#111" stroke-width="0.25">NS 2</text><path d="M91.21,627.70L94.11,621.80L97.01,627.70Z" fill="#140000"/><path d="M91.21,634.90L94.11,629.00L97.01,634.90Z" fill="#140000"/><path d="M90.41,626.30L93.21,620.80L96.01,626.30Z" fill="#e4604c" stroke="#6a1810" stroke-width="0.8" stroke-linejoin="round"/><path d="M90.41,633.50L93.21,628.00L96.01,633.50Z" fill="#e4604c" stroke="#6a1810" stroke-width="0.8" stroke-linejoin="round"/><path d="M92.21,625.10L93.21,623.20L94.21,625.10Z" fill="#ffece0"/><path d="M92.21,632.30L93.21,630.40L94.21,632.30Z" fill="#ffece0"/><path d="M111.82,631.90L114.72,626.00L117.62,631.90Z" fill="#140000"/><path d="M111.82,633.90L114.72,628.00L117.62,633.90Z" fill="#140000"/><path d="M111.02,630.50L113.82,625.00L116.62,630.50Z" fill="#e4604c" stroke="#6a1810" stroke-width="0.8" stroke-linejoin="round"/><path d="M111.02,632.50L113.82,627.00L116.62,632.50Z" fill="#e4604c" stroke="#6a1810" stroke-width="0.8" stroke-linejoin="round"/><path d="M112.82,629.30L113.82,627.40L114.82,629.30Z" fill="#ffece0"/><path d="M112.82,631.30L113.82,629.40L114.82,631.30Z" fill="#ffece0"/><path d="M132.44,629.40L135.34,623.50L138.24,629.40Z" fill="#140000"/><path d="M132.44,631.40L135.34,625.50L138.24,631.40Z" fill="#140000"/><path d="M131.64,628.00L134.44,622.50L137.24,628.00Z" fill="#e4604c" stroke="#6a1810" stroke-width="0.8" stroke-linejoin="round"/><path d="M131.64,630.00L134.44,624.50L137.24,630.00Z" fill="#e4604c" stroke="#6a1810" stroke-width="0.8" stroke-linejoin="round"/><path d="M133.44,626.80L134.44,624.90L135.44,626.80Z" fill="#ffece0"/><path d="M133.44,628.80L134.44,626.90L135.44,628.80Z" fill="#ffece0"/><path d="M153.06,617.60L155.96,611.70L158.86,617.60Z" fill="#140000"/><path d="M153.06,625.80L155.96,619.90L158.86,625.80Z" fill="#140000"/><path d="M152.26,616.20L155.06,610.70L157.86,616.20Z" fill="#e4604c" stroke="#6a1810" stroke-width="0.8" stroke-linejoin="round"/><path d="M152.26,624.40L155.06,618.90L157.86,624.40Z" fill="#e4604c" stroke="#6a1810" stroke-width="0.8" stroke-linejoin="round"/><path d="M154.06,615.00L155.06,613.10L156.06,615.00Z" fill="#ffece0"/><path d="M154.06,623.20L155.06,621.30L156.06,623.20Z" fill="#ffece0"/><path d="M173.67,621.40L176.57,615.50L179.47,621.40Z" fill="#140000"/><path d="M173.67,624.70L176.57,618.80L179.47,624.70Z" fill="#140000"/><path d="M172.87,620.00L175.67,614.50L178.47,620.00Z" fill="#e4604c" stroke="#6a1810" stroke-width="0.8" stroke-linejoin="round"/><path d="M172.87,623.30L175.67,617.80L178.47,623.30Z" fill="#e4604c" stroke="#6a1810" stroke-width="0.8" stroke-linejoin="round"/><path d="M174.67,618.80L175.67,616.90L176.67,618.80Z" fill="#ffece0"/><path d="M174.67,622.10L175.67,620.20L176.67,622.10Z" fill="#ffece0"/><path d="M194.29,625.60L197.19,619.70L200.09,625.60Z" fill="#140000"/><path d="M194.29,628.10L197.19,622.20L200.09,628.10Z" fill="#140000"/><path d="M193.49,624.20L196.29,618.70L199.09,624.20Z" fill="#e4604c" stroke="#6a1810" stroke-width="0.8" stroke-linejoin="round"/><path d="M193.49,626.70L196.29,621.20L199.09,626.70Z" fill="#e4604c" stroke="#6a1810" stroke-width="0.8" stroke-linejoin="round"/><path d="M195.29,623.00L196.29,621.10L197.29,623.00Z" fill="#ffece0"/><path d="M195.29,625.50L196.29,623.60L197.29,625.50Z" fill="#ffece0"/><path d="M214.90,622.70L217.80,616.80L220.70,622.70Z" fill="#140000"/><path d="M214.90,625.60L217.80,619.70L220.70,625.60Z" fill="#140000"/><path d="M214.10,621.30L216.90,615.80L219.70,621.30Z" fill="#e4604c" stroke="#6a1810" stroke-width="0.8" stroke-linejoin="round"/><path d="M214.10,624.20L216.90,618.70L219.70,624.20Z" fill="#e4604c" stroke="#6a1810" stroke-width="0.8" stroke-linejoin="round"/><path d="M215.90,620.10L216.90,618.20L217.90,620.10Z" fill="#ffece0"/><path d="M215.90,623.00L216.90,621.10L217.90,623.00Z" fill="#ffece0"/><path d="M235.52,612.20L238.42,606.30L241.32,612.20Z" fill="#140000"/><path d="M235.52,626.60L238.42,620.70L241.32,626.60Z" fill="#140000"/><path d="M234.72,610.80L237.52,605.30L240.32,610.80Z" fill="#e4604c" stroke="#6a1810" stroke-width="0.8" stroke-linejoin="round"/><path d="M234.72,625.20L237.52,619.70L240.32,625.20Z" fill="#e4604c" stroke="#6a1810" stroke-width="0.8" stroke-linejoin="round"/><path d="M236.52,609.60L237.52,607.70L238.52,609.60Z" fill="#ffece0"/><path d="M236.52,624.00L237.52,622.10L238.52,624.00Z" fill="#ffece0"/><path d="M256.13,614.10L259.03,608.20L261.93,614.10Z" fill="#140000"/><path d="M256.13,618.90L259.03,613.00L261.93,618.90Z" fill="#140000"/><path d="M255.33,612.70L258.13,607.20L260.93,612.70Z" fill="#e4604c" stroke="#6a1810" stroke-width="0.8" stroke-linejoin="round"/><path d="M255.33,617.50L258.13,612.00L260.93,617.50Z" fill="#e4604c" stroke="#6a1810" stroke-width="0.8" stroke-linejoin="round"/><path d="M257.13,611.50L258.13,609.60L259.13,611.50Z" fill="#ffece0"/><path d="M257.13,616.30L258.13,614.40L259.13,616.30Z" fill="#ffece0"/><path d="M276.75,621.60L279.65,615.70L282.55,621.60Z" fill="#140000"/><path d="M276.75,626.20L279.65,620.30L282.55,626.20Z" fill="#140000"/><path d="M275.95,620.20L278.75,614.70L281.55,620.20Z" fill="#e4604c" stroke="#6a1810" stroke-width="0.8" stroke-linejoin="round"/><path d="M275.95,624.80L278.75,619.30L281.55,624.80Z" fill="#e4604c" stroke="#6a1810" stroke-width="0.8" stroke-linejoin="round"/><path d="M277.75,619.00L278.75,617.10L279.75,619.00Z" fill="#ffece0"/><path d="M277.75,623.60L278.75,621.70L279.75,623.60Z" fill="#ffece0"/><path d="M297.37,620.40L300.27,614.50L303.17,620.40Z" fill="#140000"/><path d="M297.37,626.20L300.27,620.30L303.17,626.20Z" fill="#140000"/><path d="M296.57,619.00L299.37,613.50L302.17,619.00Z" fill="#e4604c" stroke="#6a1810" stroke-width="0.8" stroke-linejoin="round"/><path d="M296.57,624.80L299.37,619.30L302.17,624.80Z" fill="#e4604c" stroke="#6a1810" stroke-width="0.8" stroke-linejoin="round"/><path d="M298.37,617.80L299.37,615.90L300.37,617.80Z" fill="#ffece0"/><path d="M298.37,623.60L299.37,621.70L300.37,623.60Z" fill="#ffece0"/><path d="M317.98,635.40L320.88,629.50L323.78,635.40Z" fill="#140000"/><path d="M317.98,648.80L320.88,642.90L323.78,648.80Z" fill="#140000"/><path d="M317.18,634.00L319.98,628.50L322.78,634.00Z" fill="#e4604c" stroke="#6a1810" stroke-width="0.8" stroke-linejoin="round"/><path d="M317.18,647.40L319.98,641.90L322.78,647.40Z" fill="#e4604c" stroke="#6a1810" stroke-width="0.8" stroke-linejoin="round"/><path d="M318.98,632.80L319.98,630.90L320.98,632.80Z" fill="#ffece0"/><path d="M318.98,646.20L319.98,644.30L320.98,646.20Z" fill="#ffece0"/><path d="M338.60,629.70L341.50,623.80L344.40,629.70Z" fill="#140000"/><path d="M338.60,636.10L341.50,630.20L344.40,636.10Z" fill="#140000"/><path d="M337.80,628.30L340.60,622.80L343.40,628.30Z" fill="#e4604c" stroke="#6a1810" stroke-width="0.8" stroke-linejoin="round"/><path d="M337.80,634.70L340.60,629.20L343.40,634.70Z" fill="#e4604c" stroke="#6a1810" stroke-width="0.8" stroke-linejoin="round"/><path d="M339.60,627.10L340.60,625.20L341.60,627.10Z" fill="#ffece0"/><path d="M339.60,633.50L340.60,631.60L341.60,633.50Z" fill="#ffece0"/><path d="M359.21,649.90L362.11,644.00L365.01,649.90Z" fill="#140000"/><path d="M359.21,655.10L362.11,649.20L365.01,655.10Z" fill="#140000"/><path d="M358.41,648.50L361.21,643.00L364.01,648.50Z" fill="#e4604c" stroke="#6a1810" stroke-width="0.8" stroke-linejoin="round"/><path d="M358.41,653.70L361.21,648.20L364.01,653.70Z" fill="#e4604c" stroke="#6a1810" stroke-width="0.8" stroke-linejoin="round"/><path d="M360.21,647.30L361.21,645.40L362.21,647.30Z" fill="#ffece0"/><path d="M360.21,652.50L361.21,650.60L362.21,652.50Z" fill="#ffece0"/><path d="M379.83,609.30L382.73,603.40L385.63,609.30Z" fill="#140000"/><path d="M379.83,633.30L382.73,627.40L385.63,633.30Z" fill="#140000"/><path d="M379.03,607.90L381.83,602.40L384.63,607.90Z" fill="#e4604c" stroke="#6a1810" stroke-width="0.8" stroke-linejoin="round"/><path d="M379.03,631.90L381.83,626.40L384.63,631.90Z" fill="#e4604c" stroke="#6a1810" stroke-width="0.8" stroke-linejoin="round"/><path d="M380.83,606.70L381.83,604.80L382.83,606.70Z" fill="#ffece0"/><path d="M380.83,630.70L381.83,628.80L382.83,630.70Z" fill="#ffece0"/><path d="M400.44,609.30L403.34,603.40L406.24,609.30Z" fill="#140000"/><path d="M400.44,619.30L403.34,613.40L406.24,619.30Z" fill="#140000"/><path d="M399.64,607.90L402.44,602.40L405.24,607.90Z" fill="#e4604c" stroke="#6a1810" stroke-width="0.8" stroke-linejoin="round"/><path d="M399.64,617.90L402.44,612.40L405.24,617.90Z" fill="#e4604c" stroke="#6a1810" stroke-width="0.8" stroke-linejoin="round"/><path d="M401.44,606.70L402.44,604.80L403.44,606.70Z" fill="#ffece0"/><path d="M401.44,616.70L402.44,614.80L403.44,616.70Z" fill="#ffece0"/><path d="M421.06,663.40L423.96,657.50L426.86,663.40Z" fill="#000024"/><path d="M421.06,665.40L423.96,659.50L426.86,665.40Z" fill="#000024"/><path d="M421.06,666.90L423.96,661.00L426.86,666.90Z" fill="#000024"/><path d="M420.26,662.00L423.06,656.50L425.86,662.00Z" fill="#3838f0" stroke="#10106a" stroke-width="0.8" stroke-linejoin="round"/><path d="M420.26,664.00L423.06,658.50L425.86,664.00Z" fill="#3838f0" stroke="#10106a" stroke-width="0.8" stroke-linejoin="round"/><path d="M420.26,665.50L423.06,660.00L425.86,665.50Z" fill="#3838f0" stroke="#10106a" stroke-width="0.8" stroke-linejoin="round"/><path d="M421.56,660.80L423.06,658.00L424.56,660.80Z" fill="#f0f0ff"/><path d="M421.56,662.80L423.06,660.00L424.56,662.80Z" fill="#f0f0ff"/><path d="M421.56,664.30L423.06,661.50L424.56,664.30Z" fill="#f0f0ff"/><path d="M441.68,600.40L444.58,594.50L447.48,600.40Z" fill="#000024"/><path d="M441.68,608.90L444.58,603.00L447.48,608.90Z" fill="#000024"/><path d="M441.68,612.40L444.58,606.50L447.48,612.40Z" fill="#000024"/><path d="M441.68,616.40L444.58,610.50L447.48,616.40Z" fill="#000024"/><path d="M440.88,599.00L443.68,593.50L446.48,599.00Z" fill="#3838f0" stroke="#10106a" stroke-width="0.8" stroke-linejoin="round"/><path d="M440.88,607.50L443.68,602.00L446.48,607.50Z" fill="#3838f0" stroke="#10106a" stroke-width="0.8" stroke-linejoin="round"/><path d="M440.88,611.00L443.68,605.50L446.48,611.00Z" fill="#3838f0" stroke="#10106a" stroke-width="0.8" stroke-linejoin="round"/><path d="M440.88,615.00L443.68,609.50L446.48,615.00Z" fill="#3838f0" stroke="#10106a" stroke-width="0.8" stroke-linejoin="round"/><path d="M442.18,597.80L443.68,595.00L445.18,597.80Z" fill="#f0f0ff"/><path d="M442.18,606.30L443.68,603.50L445.18,606.30Z" fill="#f0f0ff"/><path d="M442.18,609.80L443.68,607.00L445.18,609.80Z" fill="#f0f0ff"/><path d="M442.18,613.80L443.68,611.00L445.18,613.80Z" fill="#f0f0ff"/><path d="M462.29,591.90L465.19,586.00L468.09,591.90Z" fill="#000024"/><path d="M462.29,593.90L465.19,588.00L468.09,593.90Z" fill="#000024"/><path d="M462.29,601.90L465.19,596.00L468.09,601.90Z" fill="#000024"/><path d="M462.29,603.90L465.19,598.00L468.09,603.90Z" fill="#000024"/><path d="M462.29,605.40L465.19,599.50L468.09,605.40Z" fill="#000024"/><path d="M461.49,590.50L464.29,585.00L467.09,590.50Z" fill="#3838f0" stroke="#10106a" stroke-width="0.8" stroke-linejoin="round"/><path d="M461.49,592.50L464.29,587.00L467.09,592.50Z" fill="#3838f0" stroke="#10106a" stroke-width="0.8" stroke-linejoin="round"/><path d="M461.49,600.50L464.29,595.00L467.09,600.50Z" fill="#3838f0" stroke="#10106a" stroke-width="0.8" stroke-linejoin="round"/><path d="M461.49,602.50L464.29,597.00L467.09,602.50Z" fill="#3838f0" stroke="#10106a" stroke-width="0.8" stroke-linejoin="round"/><path d="M461.49,604.00L464.29,598.50L467.09,604.00Z" fill="#3838f0" stroke="#10106a" stroke-width="0.8" stroke-linejoin="round"/><path d="M462.79,589.30L464.29,586.50L465.79,589.30Z" fill="#f0f0ff"/><path d="M462.79,591.30L464.29,588.50L465.79,591.30Z" fill="#f0f0ff"/><path d="M462.79,599.30L464.29,596.50L465.79,599.30Z" fill="#f0f0ff"/><path d="M462.79,601.30L464.29,598.50L465.79,601.30Z" fill="#f0f0ff"/><path d="M462.79,602.80L464.29,600.00L465.79,602.80Z" fill="#f0f0ff"/><defs><filter id="b11_6" x="-30%" y="-200%" width="160%" height="500%"><feGaussianBlur stdDeviation="1.1 0.6"/></filter><filter id="b14_8" x="-30%" y="-200%" width="160%" height="500%"><feGaussianBlur stdDeviation="1.4 0.8"/></filter><filter id="b14_9" x="-30%" y="-200%" width="160%" height="500%"><feGaussianBlur stdDeviation="1.4 0.9"/></filter><filter id="b15_11" x="-30%" y="-200%" width="160%" height="500%"><feGaussianBlur stdDeviation="1.5 1.1"/></filter><filter id="b15_12" x="-30%" y="-200%" width="160%" height="500%"><feGaussianBlur stdDeviation="1.5 1.2"/></filter><filter id="b16_20" x="-30%" y="-200%" width="160%" height="500%"><feGaussianBlur stdDeviation="1.6 2.0"/></filter><linearGradient id="gE1" x1="0" y1="0" x2="0" y2="1"><stop offset="0" stop-color="#e6e6e6"/><stop offset="1" stop-color="#f2f2f2"/></linearGradient><linearGradient id="gE2" x1="0" y1="0" x2="0" y2="1"><stop offset="0" stop-color="#f2f2f2"/><stop offset="1" stop-color="#f7f7f7"/></linearGradient><linearGradient id="gF1" x1="0" y1="0" x2="0" y2="1"><stop offset="0" stop-color="#f2f2f2"/><stop offset="1" stop-color="#f7f7f7"/></linearGradient><linearGradient id="gF2" x1="0" y1="0" x2="0" y2="1"><stop offset="0" stop-color="#f4f4f4"/><stop offset="1" stop-color="#f8f8f8"/></linearGradient></defs><text x="3.5" y="759.5" font-size="25" font-weight="bold" fill="#000">E</text><text x="275" y="760.5" font-size="25" font-weight="bold" fill="#000">F</text><text x="103.6" y="768.8" font-size="11" letter-spacing="0.75" text-anchor="middle" fill="#111" stroke="#111" stroke-width="0.1">KMS11</text><path d="M83.5,778V776.2H124.8V778" fill="none" stroke="#111" stroke-width="1.5"/><text x="159.8" y="768.8" font-size="11" letter-spacing="0.75" text-anchor="middle" fill="#111" stroke="#111" stroke-width="0.1">293</text><path d="M140.3,778V776.2H182.3V778" fill="none" stroke="#111" stroke-width="1.5"/><text x="217.9" y="768.8" font-size="11" letter-spacing="0.75" text-anchor="middle" fill="#111" stroke="#111" stroke-width="0.1">A549</text><path d="M197.8,778V776.2H240V778" fill="none" stroke="#111" stroke-width="1.5"/><text x="89.5" y="786.6" font-size="8" text-anchor="middle" fill="#707070" font-weight="normal" stroke="#707070" stroke-width="0">+</text><text x="89.5" y="797.7" font-size="8" text-anchor="middle" fill="#707070" font-weight="normal" stroke="#707070" stroke-width="0">-</text><text x="119" y="786.6" font-size="8" text-anchor="middle" fill="#707070" font-weight="normal" stroke="#707070" stroke-width="0">-</text><text x="119" y="797.7" font-size="8" text-anchor="middle" fill="#707070" font-weight="normal" stroke="#707070" stroke-width="0">+</text><text x="147.5" y="786.6" font-size="8" text-anchor="middle" fill="#707070" font-weight="normal" stroke="#707070" stroke-width="0">+</text><text x="147.5" y="797.7" font-size="8" text-anchor="middle" fill="#707070" font-weight="normal" stroke="#707070" stroke-width="0">-</text><text x="176.5" y="786.6" font-size="8" text-anchor="middle" fill="#707070" font-weight="normal" stroke="#707070" stroke-width="0">-</text><text x="176.5" y="797.7" font-size="8" text-anchor="middle" fill="#707070" font-weight="normal" stroke="#707070" stroke-width="0">+</text><text x="204.5" y="786.6" font-size="8" text-anchor="middle" fill="#707070" font-weight="normal" stroke="#707070" stroke-width="0">+</text><text x="204.5" y="797.7" font-size="8" text-anchor="middle" fill="#707070" font-weight="normal" stroke="#707070" stroke-width="0">-</text><text x="234" y="786.6" font-size="8" text-anchor="middle" fill="#707070" font-weight="normal" stroke="#707070" stroke-width="0">-</text><text x="234" y="797.7" font-size="8" text-anchor="middle" fill="#707070" font-weight="normal" stroke="#707070" stroke-width="0">+</text><text x="4.3" y="787.7" font-size="10.7" text-anchor="start" fill="#111" font-weight="normal" stroke="#111" stroke-width="0.2">NS siRNA</text><text x="4.3" y="798.0" font-size="10.7" text-anchor="start" fill="#111" font-weight="normal" stroke="#111" stroke-width="0.2">AURKA siRNA</text><text x="364.2" y="768.8" font-size="11" letter-spacing="0.75" text-anchor="middle" fill="#111" stroke="#111" stroke-width="0.1">KMS11</text><path d="M343.5,778V776.2H385.2V778" fill="none" stroke="#111" stroke-width="1.5"/><text x="419.8" y="768.8" font-size="11" letter-spacing="0.75" text-anchor="middle" fill="#111" stroke="#111" stroke-width="0.1">293</text><path d="M401.2,778V776.2H441.8V778" fill="none" stroke="#111" stroke-width="1.5"/><text x="479" y="768.8" font-size="11" letter-spacing="0.75" text-anchor="middle" fill="#111" stroke="#111" stroke-width="0.1">A549</text><path d="M458,778V776.2H499.8V778" fill="none" stroke="#111" stroke-width="1.5"/><text x="350.8" y="786.6" font-size="8" text-anchor="middle" fill="#707070" font-weight="normal" stroke="#707070" stroke-width="0">+</text><text x="350.8" y="797.7" font-size="8" text-anchor="middle" fill="#707070" font-weight="normal" stroke="#707070" stroke-width="0">-</text><text x="380" y="786.6" font-size="8" text-anchor="middle" fill="#707070" font-weight="normal" stroke="#707070" stroke-width="0">-</text><text x="380" y="797.7" font-size="8" text-anchor="middle" fill="#707070" font-weight="normal" stroke="#707070" stroke-width="0">+</text><text x="408" y="786.6" font-size="8" text-anchor="middle" fill="#707070" font-weight="normal" stroke="#707070" stroke-width="0">+</text><text x="408" y="797.7" font-size="8" text-anchor="middle" fill="#707070" font-weight="normal" stroke="#707070" stroke-width="0">-</text><text x="437.1" y="786.6" font-size="8" text-anchor="middle" fill="#707070" font-weight="normal" stroke="#707070" stroke-width="0">-</text><text x="437.1" y="797.7" font-size="8" text-anchor="middle" fill="#707070" font-weight="normal" stroke="#707070" stroke-width="0">+</text><text x="464.6" y="786.6" font-size="8" text-anchor="middle" fill="#707070" font-weight="normal" stroke="#707070" stroke-width="0">+</text><text x="464.6" y="797.7" font-size="8" text-anchor="middle" fill="#707070" font-weight="normal" stroke="#707070" stroke-width="0">-</text><text x="494.2" y="786.6" font-size="8" text-anchor="middle" fill="#707070" font-weight="normal" stroke="#707070" stroke-width="0">-</text><text x="494.2" y="797.7" font-size="8" text-anchor="middle" fill="#707070" font-weight="normal" stroke="#707070" stroke-width="0">+</text><text x="276.5" y="787.7" font-size="10.7" text-anchor="start" fill="#111" font-weight="normal" stroke="#111" stroke-width="0.2">NS siRNA</text><text x="276.5" y="798.0" font-size="10.7" text-anchor="start" fill="#111" font-weight="normal" stroke="#111" stroke-width="0.2">PKN1 siRNA</text><rect x="70" y="802.3" width="185" height="38.40000000000009" fill="url(#gE1)" stroke="#7a7a7a" stroke-width="1.4"/><rect x="70" y="849.2" width="185.3" height="39.5" fill="url(#gE2)" stroke="#7a7a7a" stroke-width="1.4"/><rect x="331.5" y="802.2" width="184.5" height="38.5" fill="url(#gF1)" stroke="#7a7a7a" stroke-width="1.4"/><rect x="331.5" y="849.2" width="184.29999999999995" height="39.09999999999991" fill="url(#gF2)" stroke="#7a7a7a" stroke-width="1.4"/><text x="20" y="828.2" font-size="10.7" text-anchor="start" fill="#111" font-weight="normal" stroke="#111" stroke-width="0.2">AURKA</text><line x1="63" y1="824.8" x2="68.5" y2="824.8" stroke="#444" stroke-width="1"/><text x="18" y="871.2" font-size="10.7" text-anchor="start" fill="#111" font-weight="normal" stroke="#111" stroke-width="0.2">a-tubulin</text><line x1="63" y1="869.3" x2="68" y2="869.3" stroke="#444" stroke-width="1"/><text x="290.3" y="824.5" font-size="10.7" text-anchor="start" fill="#111" font-weight="normal" stroke="#111" stroke-width="0.2">PKN1</text><line x1="323.8" y1="821.9" x2="329" y2="821.9" stroke="#444" stroke-width="1"/><text x="280.5" y="870.6" font-size="10.7" text-anchor="start" fill="#111" font-weight="normal" stroke="#111" stroke-width="0.2">a-tubulin</text><line x1="323.8" y1="869.3" x2="330" y2="869.3" stroke="#444" stroke-width="1"/><rect x="78.00" y="812.00" width="20.70" height="9.00" rx="3.00" fill="#dcdcdc" opacity="1.0" filter="url(#b16_20)"/><rect x="77.00" y="819.00" width="22.70" height="4.00" rx="2.00" fill="#cccccc" opacity="1.0" filter="url(#b15_12)"/><rect x="77.00" y="822.80" width="22.70" height="3.40" rx="1.70" fill="#303030" opacity="1.0" filter="url(#b14_9)"/><rect x="108.70" y="812.00" width="19.50" height="9.00" rx="3.00" fill="#e0e0e0" opacity="1.0" filter="url(#b16_20)"/><rect x="107.70" y="819.00" width="21.50" height="4.00" rx="2.00" fill="#d4d4d4" opacity="1.0" filter="url(#b15_12)"/><rect x="107.70" y="822.80" width="21.50" height="3.40" rx="1.70" fill="#b0b0b0" opacity="1.0" filter="url(#b14_9)"/><rect x="138.70" y="812.00" width="20.00" height="9.00" rx="3.00" fill="#dadada" opacity="1.0" filter="url(#b16_20)"/><rect x="137.70" y="819.00" width="22.00" height="4.00" rx="2.00" fill="#c8c8c8" opacity="1.0" filter="url(#b15_12)"/><rect x="137.70" y="822.80" width="22.00" height="3.40" rx="1.70" fill="#262626" opacity="1.0" filter="url(#b14_9)"/><rect x="168.70" y="812.00" width="18.00" height="9.00" rx="3.00" fill="#e4e4e4" opacity="1.0" filter="url(#b16_20)"/><rect x="167.70" y="819.00" width="20.00" height="4.00" rx="2.00" fill="#dedede" opacity="1.0" filter="url(#b15_12)"/><rect x="167.70" y="822.80" width="20.00" height="3.40" rx="1.70" fill="#dcdcdc" opacity="1.0" filter="url(#b14_9)"/><rect x="196.40" y="812.00" width="18.30" height="9.00" rx="3.00" fill="#dedede" opacity="1.0" filter="url(#b16_20)"/><rect x="195.40" y="819.00" width="20.30" height="4.00" rx="2.00" fill="#d0d0d0" opacity="1.0" filter="url(#b15_12)"/><rect x="195.40" y="822.80" width="20.30" height="3.40" rx="1.70" fill="#363636" opacity="1.0" filter="url(#b14_9)"/><rect x="225.60" y="812.00" width="18.00" height="9.00" rx="3.00" fill="#e8e8e8" opacity="1.0" filter="url(#b16_20)"/><rect x="224.60" y="819.00" width="20.00" height="4.00" rx="2.00" fill="#e2e2e2" opacity="1.0" filter="url(#b15_12)"/><rect x="224.60" y="822.80" width="20.00" height="3.40" rx="1.70" fill="#dedede" opacity="1.0" filter="url(#b14_9)"/><rect x="76.30" y="867.40" width="23.10" height="3.20" rx="1.60" fill="#3c3c3c" opacity="1.0" filter="url(#b14_8)"/><rect x="106.20" y="867.40" width="23.40" height="3.20" rx="1.60" fill="#424242" opacity="1.0" filter="url(#b14_8)"/><rect x="136.00" y="867.00" width="23.00" height="3.60" rx="1.80" fill="#282828" opacity="1.0" filter="url(#b14_8)"/><rect x="165.10" y="866.50" width="22.20" height="3.40" rx="1.70" fill="#343434" opacity="1.0" filter="url(#b14_8)"/><rect x="194.40" y="867.60" width="21.20" height="2.40" rx="1.20" fill="#9a9a9a" opacity="1.0" filter="url(#b14_8)"/><rect x="222.60" y="866.70" width="22.30" height="2.20" rx="1.10" fill="#acacac" opacity="1.0" filter="url(#b14_8)"/><rect x="340.00" y="813.60" width="21.00" height="1.80" rx="0.90" fill="#9c9c9c" opacity="1.0" filter="url(#b14_9)"/><rect x="340.00" y="820.70" width="21.00" height="2.00" rx="1.00" fill="#929292" opacity="1.0" filter="url(#b14_9)"/><rect x="370.50" y="813.60" width="19.20" height="1.80" rx="0.90" fill="#c4c4c4" opacity="1.0" filter="url(#b14_9)"/><rect x="371.00" y="820.90" width="18.00" height="1.60" rx="0.80" fill="#e0e0e0" opacity="1.0" filter="url(#b14_9)"/><rect x="401.00" y="814.40" width="19.50" height="1.80" rx="0.90" fill="#9a9a9a" opacity="1.0" filter="url(#b14_9)"/><rect x="400.30" y="819.10" width="21.10" height="5.40" rx="2.70" fill="#000" opacity="1.0" filter="url(#b15_11)"/><rect x="457.50" y="820.20" width="20.00" height="2.20" rx="1.10" fill="#9a9a9a" opacity="1.0" filter="url(#b14_9)"/><rect x="336.30" y="868.30" width="23.70" height="3.40" rx="1.70" fill="#2c2c2c" opacity="1.0" filter="url(#b14_8)"/><rect x="369.50" y="868.40" width="21.80" height="3.20" rx="1.60" fill="#343434" opacity="1.0" filter="url(#b14_8)"/><rect x="398.80" y="868.10" width="22.50" height="4.60" rx="2.30" fill="#0e0e0e" opacity="1.0" filter="url(#b14_8)"/><rect x="427.50" y="868.20" width="22.50" height="4.40" rx="2.20" fill="#121212" opacity="1.0" filter="url(#b14_8)"/><rect x="457.50" y="868.90" width="20.00" height="2.20" rx="1.10" fill="#8a8a8a" opacity="1.0" filter="url(#b14_8)"/><rect x="487.50" y="868.50" width="22.00" height="2.00" rx="1.00" fill="#9a9a9a" opacity="1.0" filter="url(#b14_8)"/><rect x="400.00" y="853.20" width="21.30" height="1.60" rx="0.80" fill="#e2e2e2" opacity="1.0" filter="url(#b11_6)"/><rect x="428.00" y="853.20" width="22.00" height="1.60" rx="0.80" fill="#e2e2e2" opacity="1.0" filter="url(#b11_6)"/></svg>
</body></html>
